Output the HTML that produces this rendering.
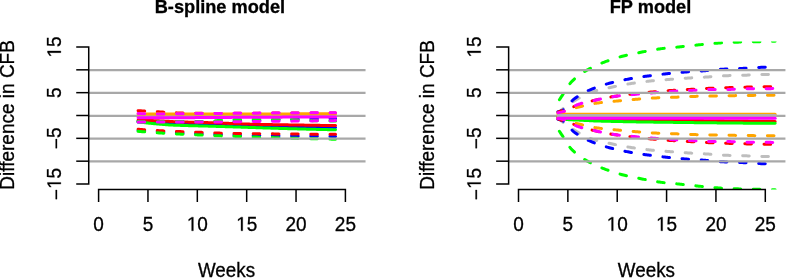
<!DOCTYPE html>
<html><head><meta charset="utf-8"><style>
html,body{margin:0;padding:0;background:#fff;}
body{width:786px;height:278px;overflow:hidden;font-family:"Liberation Sans",sans-serif;}
svg{display:block;will-change:transform;}
</style></head><body>
<svg width="786" height="278" viewBox="0 0 786 278">
<rect width="786" height="278" fill="#fff"/>
<defs>
<clipPath id="cl"><rect x="88.33" y="41.5" width="277.21" height="148"/></clipPath>
<clipPath id="cr"><rect x="508.23" y="41.5" width="277.21" height="148"/></clipPath>
</defs>
<line x1="88.73" y1="115.80" x2="365.54" y2="115.80" stroke="#a8a8a8" stroke-width="2.2"/>
<line x1="508.63" y1="115.80" x2="785.44" y2="115.80" stroke="#a8a8a8" stroke-width="2.2"/>
<g clip-path="url(#cr)" fill="none" stroke-width="3">
<path d="M557.99,112.76 L559.08,111.85 L560.17,110.95 L561.26,110.07 L562.35,109.20 L563.44,108.35 L564.54,107.51 L565.63,106.69 L566.72,105.89 L567.81,105.11 L568.90,104.34 L569.99,103.59 L571.08,102.86 L572.18,102.15 L573.27,101.46 L574.36,100.80 L575.45,100.15 L576.54,99.52 L577.63,98.90 L578.72,98.28 L579.82,97.68 L580.91,97.08 L582.00,96.49 L583.09,95.92 L584.18,95.37 L585.27,94.83 L586.36,94.31 L587.46,93.81 L588.55,93.34 L589.64,92.88 L590.73,92.46 L591.82,92.06 L592.91,91.69 L594.00,91.34 L595.09,91.01 L596.19,90.70 L597.28,90.41 L598.37,90.12 L599.46,89.85 L600.55,89.59 L601.64,89.34 L602.73,89.09 L603.83,88.85 L604.92,88.62 L606.01,88.39 L607.10,88.16 L608.19,87.93 L609.28,87.70 L610.37,87.48 L611.47,87.24 L612.56,87.01 L613.65,86.78 L614.74,86.55 L615.83,86.33 L616.92,86.10 L618.01,85.88 L619.11,85.66 L620.20,85.44 L621.29,85.23 L622.38,85.02 L623.47,84.82 L624.56,84.62 L625.65,84.42 L626.74,84.23 L627.84,84.04 L628.93,83.86 L630.02,83.69 L631.11,83.52 L632.20,83.35 L633.29,83.18 L634.38,83.02 L635.48,82.86 L636.57,82.70 L637.66,82.55 L638.75,82.40 L639.84,82.25 L640.93,82.10 L642.02,81.96 L643.12,81.82 L644.21,81.69 L645.30,81.56 L646.39,81.43 L647.48,81.31 L648.57,81.19 L649.66,81.07 L650.76,80.96 L651.85,80.85 L652.94,80.75 L654.03,80.64 L655.12,80.54 L656.21,80.45 L657.30,80.35 L658.39,80.26 L659.49,80.17 L660.58,80.07 L661.67,79.99 L662.76,79.90 L663.85,79.81 L664.94,79.73 L666.03,79.64 L667.13,79.55 L668.22,79.47 L669.31,79.39 L670.40,79.30 L671.49,79.22 L672.58,79.13 L673.67,79.05 L674.77,78.97 L675.86,78.89 L676.95,78.81 L678.04,78.73 L679.13,78.66 L680.22,78.58 L681.31,78.50 L682.40,78.43 L683.50,78.36 L684.59,78.28 L685.68,78.21 L686.77,78.14 L687.86,78.07 L688.95,78.01 L690.04,77.94 L691.14,77.88 L692.23,77.82 L693.32,77.76 L694.41,77.70 L695.50,77.64 L696.59,77.58 L697.68,77.52 L698.78,77.47 L699.87,77.41 L700.96,77.35 L702.05,77.29 L703.14,77.23 L704.23,77.17 L705.32,77.10 L706.42,77.04 L707.51,76.97 L708.60,76.90 L709.69,76.82 L710.78,76.74 L711.87,76.66 L712.96,76.57 L714.05,76.49 L715.15,76.40 L716.24,76.31 L717.33,76.23 L718.42,76.15 L719.51,76.07 L720.60,75.99 L721.69,75.92 L722.79,75.86 L723.88,75.80 L724.97,75.75 L726.06,75.70 L727.15,75.67 L728.24,75.63 L729.33,75.60 L730.43,75.57 L731.52,75.54 L732.61,75.51 L733.70,75.49 L734.79,75.46 L735.88,75.44 L736.97,75.42 L738.07,75.39 L739.16,75.37 L740.25,75.34 L741.34,75.32 L742.43,75.29 L743.52,75.26 L744.61,75.23 L745.70,75.20 L746.80,75.16 L747.89,75.12 L748.98,75.07 L750.07,75.02 L751.16,74.97 L752.25,74.92 L753.34,74.87 L754.44,74.82 L755.53,74.78 L756.62,74.73 L757.71,74.68 L758.80,74.64 L759.89,74.60 L760.98,74.57 L762.08,74.54 L763.17,74.51 L764.26,74.49 L765.35,74.48 L766.44,74.46 L767.53,74.45 L768.62,74.44 L769.72,74.43 L770.81,74.42 L771.90,74.41 L772.99,74.40 L774.08,74.40 L775.17,74.40" stroke="#bebebe" stroke-dasharray="6.6 12.6" stroke-linecap="round" stroke-linejoin="round" stroke-dashoffset="0"/>
<path d="M557.99,118.24 L559.08,119.15 L560.17,120.05 L561.26,120.93 L562.35,121.80 L563.44,122.65 L564.54,123.49 L565.63,124.31 L566.72,125.11 L567.81,125.89 L568.90,126.66 L569.99,127.41 L571.08,128.14 L572.18,128.85 L573.27,129.54 L574.36,130.20 L575.45,130.85 L576.54,131.48 L577.63,132.10 L578.72,132.72 L579.82,133.32 L580.91,133.92 L582.00,134.51 L583.09,135.08 L584.18,135.63 L585.27,136.17 L586.36,136.69 L587.46,137.19 L588.55,137.66 L589.64,138.12 L590.73,138.54 L591.82,138.94 L592.91,139.31 L594.00,139.66 L595.09,139.99 L596.19,140.30 L597.28,140.59 L598.37,140.88 L599.46,141.15 L600.55,141.41 L601.64,141.66 L602.73,141.91 L603.83,142.15 L604.92,142.38 L606.01,142.61 L607.10,142.84 L608.19,143.07 L609.28,143.30 L610.37,143.52 L611.47,143.76 L612.56,143.99 L613.65,144.22 L614.74,144.45 L615.83,144.67 L616.92,144.90 L618.01,145.12 L619.11,145.34 L620.20,145.56 L621.29,145.77 L622.38,145.98 L623.47,146.18 L624.56,146.38 L625.65,146.58 L626.74,146.77 L627.84,146.96 L628.93,147.14 L630.02,147.31 L631.11,147.48 L632.20,147.65 L633.29,147.82 L634.38,147.98 L635.48,148.14 L636.57,148.30 L637.66,148.45 L638.75,148.60 L639.84,148.75 L640.93,148.90 L642.02,149.04 L643.12,149.18 L644.21,149.31 L645.30,149.44 L646.39,149.57 L647.48,149.69 L648.57,149.81 L649.66,149.93 L650.76,150.04 L651.85,150.15 L652.94,150.25 L654.03,150.36 L655.12,150.46 L656.21,150.55 L657.30,150.65 L658.39,150.74 L659.49,150.83 L660.58,150.93 L661.67,151.01 L662.76,151.10 L663.85,151.19 L664.94,151.27 L666.03,151.36 L667.13,151.45 L668.22,151.53 L669.31,151.61 L670.40,151.70 L671.49,151.78 L672.58,151.87 L673.67,151.95 L674.77,152.03 L675.86,152.11 L676.95,152.19 L678.04,152.27 L679.13,152.34 L680.22,152.42 L681.31,152.50 L682.40,152.57 L683.50,152.64 L684.59,152.72 L685.68,152.79 L686.77,152.86 L687.86,152.93 L688.95,152.99 L690.04,153.06 L691.14,153.12 L692.23,153.18 L693.32,153.24 L694.41,153.30 L695.50,153.36 L696.59,153.42 L697.68,153.48 L698.78,153.53 L699.87,153.59 L700.96,153.65 L702.05,153.71 L703.14,153.77 L704.23,153.83 L705.32,153.90 L706.42,153.96 L707.51,154.03 L708.60,154.10 L709.69,154.18 L710.78,154.26 L711.87,154.34 L712.96,154.43 L714.05,154.51 L715.15,154.60 L716.24,154.69 L717.33,154.77 L718.42,154.85 L719.51,154.93 L720.60,155.01 L721.69,155.08 L722.79,155.14 L723.88,155.20 L724.97,155.25 L726.06,155.30 L727.15,155.33 L728.24,155.37 L729.33,155.40 L730.43,155.43 L731.52,155.46 L732.61,155.49 L733.70,155.51 L734.79,155.54 L735.88,155.56 L736.97,155.58 L738.07,155.61 L739.16,155.63 L740.25,155.66 L741.34,155.68 L742.43,155.71 L743.52,155.74 L744.61,155.77 L745.70,155.80 L746.80,155.84 L747.89,155.88 L748.98,155.93 L750.07,155.98 L751.16,156.03 L752.25,156.08 L753.34,156.13 L754.44,156.18 L755.53,156.22 L756.62,156.27 L757.71,156.32 L758.80,156.36 L759.89,156.40 L760.98,156.43 L762.08,156.46 L763.17,156.49 L764.26,156.51 L765.35,156.52 L766.44,156.54 L767.53,156.55 L768.62,156.56 L769.72,156.57 L770.81,156.58 L771.90,156.59 L772.99,156.60 L774.08,156.60 L775.17,156.60" stroke="#bebebe" stroke-dasharray="6.6 12.6" stroke-linecap="round" stroke-linejoin="round" stroke-dashoffset="0"/>
<path d="M557.99,111.62 L559.08,111.42 L560.17,111.12 L561.26,110.73 L562.35,110.28 L563.44,109.75 L564.54,109.01 L565.63,108.07 L566.72,106.97 L567.81,105.76 L568.90,104.49 L569.99,103.20 L571.08,101.94 L572.18,100.75 L573.27,99.69 L574.36,98.80 L575.45,98.02 L576.54,97.27 L577.63,96.55 L578.72,95.85 L579.82,95.18 L580.91,94.53 L582.00,93.90 L583.09,93.29 L584.18,92.71 L585.27,92.15 L586.36,91.61 L587.46,91.08 L588.55,90.57 L589.64,90.09 L590.73,89.61 L591.82,89.15 L592.91,88.71 L594.00,88.28 L595.09,87.86 L596.19,87.45 L597.28,87.05 L598.37,86.66 L599.46,86.29 L600.55,85.92 L601.64,85.57 L602.73,85.22 L603.83,84.89 L604.92,84.56 L606.01,84.24 L607.10,83.93 L608.19,83.62 L609.28,83.32 L610.37,83.03 L611.47,82.75 L612.56,82.47 L613.65,82.20 L614.74,81.93 L615.83,81.67 L616.92,81.42 L618.01,81.17 L619.11,80.92 L620.20,80.68 L621.29,80.45 L622.38,80.22 L623.47,80.00 L624.56,79.78 L625.65,79.56 L626.74,79.35 L627.84,79.15 L628.93,78.94 L630.02,78.75 L631.11,78.55 L632.20,78.36 L633.29,78.18 L634.38,78.00 L635.48,77.82 L636.57,77.64 L637.66,77.47 L638.75,77.30 L639.84,77.14 L640.93,76.97 L642.02,76.81 L643.12,76.65 L644.21,76.50 L645.30,76.34 L646.39,76.19 L647.48,76.04 L648.57,75.89 L649.66,75.74 L650.76,75.60 L651.85,75.46 L652.94,75.32 L654.03,75.18 L655.12,75.04 L656.21,74.91 L657.30,74.78 L658.39,74.65 L659.49,74.52 L660.58,74.39 L661.67,74.27 L662.76,74.15 L663.85,74.03 L664.94,73.91 L666.03,73.80 L667.13,73.68 L668.22,73.57 L669.31,73.46 L670.40,73.35 L671.49,73.24 L672.58,73.13 L673.67,73.02 L674.77,72.92 L675.86,72.82 L676.95,72.72 L678.04,72.62 L679.13,72.52 L680.22,72.43 L681.31,72.33 L682.40,72.24 L683.50,72.15 L684.59,72.07 L685.68,71.98 L686.77,71.90 L687.86,71.82 L688.95,71.75 L690.04,71.67 L691.14,71.60 L692.23,71.53 L693.32,71.46 L694.41,71.40 L695.50,71.33 L696.59,71.26 L697.68,71.19 L698.78,71.12 L699.87,71.05 L700.96,70.98 L702.05,70.91 L703.14,70.83 L704.23,70.75 L705.32,70.66 L706.42,70.57 L707.51,70.48 L708.60,70.38 L709.69,70.29 L710.78,70.19 L711.87,70.08 L712.96,69.98 L714.05,69.88 L715.15,69.79 L716.24,69.69 L717.33,69.60 L718.42,69.51 L719.51,69.43 L720.60,69.35 L721.69,69.28 L722.79,69.21 L723.88,69.15 L724.97,69.10 L726.06,69.05 L727.15,69.00 L728.24,68.96 L729.33,68.91 L730.43,68.87 L731.52,68.83 L732.61,68.79 L733.70,68.76 L734.79,68.72 L735.88,68.68 L736.97,68.64 L738.07,68.60 L739.16,68.56 L740.25,68.52 L741.34,68.47 L742.43,68.42 L743.52,68.37 L744.61,68.31 L745.70,68.25 L746.80,68.18 L747.89,68.11 L748.98,68.04 L750.07,67.97 L751.16,67.89 L752.25,67.82 L753.34,67.75 L754.44,67.68 L755.53,67.61 L756.62,67.55 L757.71,67.49 L758.80,67.44 L759.89,67.39 L760.98,67.35 L762.08,67.32 L763.17,67.29 L764.26,67.26 L765.35,67.24 L766.44,67.21 L767.53,67.19 L768.62,67.16 L769.72,67.14 L770.81,67.13 L771.90,67.11 L772.99,67.10 L774.08,67.09 L775.17,67.09" stroke="#0000ff" stroke-dasharray="6.6 12.6" stroke-linecap="round" stroke-linejoin="round" stroke-dashoffset="1.0"/>
<path d="M557.99,119.38 L559.08,119.58 L560.17,119.88 L561.26,120.27 L562.35,120.72 L563.44,121.25 L564.54,121.99 L565.63,122.93 L566.72,124.03 L567.81,125.24 L568.90,126.51 L569.99,127.80 L571.08,129.06 L572.18,130.25 L573.27,131.31 L574.36,132.20 L575.45,132.98 L576.54,133.73 L577.63,134.45 L578.72,135.15 L579.82,135.82 L580.91,136.47 L582.00,137.10 L583.09,137.71 L584.18,138.29 L585.27,138.85 L586.36,139.39 L587.46,139.92 L588.55,140.43 L589.64,140.91 L590.73,141.39 L591.82,141.85 L592.91,142.29 L594.00,142.72 L595.09,143.14 L596.19,143.55 L597.28,143.95 L598.37,144.34 L599.46,144.71 L600.55,145.08 L601.64,145.43 L602.73,145.78 L603.83,146.11 L604.92,146.44 L606.01,146.76 L607.10,147.07 L608.19,147.38 L609.28,147.68 L610.37,147.97 L611.47,148.25 L612.56,148.53 L613.65,148.80 L614.74,149.07 L615.83,149.33 L616.92,149.58 L618.01,149.83 L619.11,150.08 L620.20,150.32 L621.29,150.55 L622.38,150.78 L623.47,151.00 L624.56,151.22 L625.65,151.44 L626.74,151.65 L627.84,151.85 L628.93,152.06 L630.02,152.25 L631.11,152.45 L632.20,152.64 L633.29,152.82 L634.38,153.00 L635.48,153.18 L636.57,153.36 L637.66,153.53 L638.75,153.70 L639.84,153.86 L640.93,154.03 L642.02,154.19 L643.12,154.35 L644.21,154.50 L645.30,154.66 L646.39,154.81 L647.48,154.96 L648.57,155.11 L649.66,155.26 L650.76,155.40 L651.85,155.54 L652.94,155.68 L654.03,155.82 L655.12,155.96 L656.21,156.09 L657.30,156.22 L658.39,156.35 L659.49,156.48 L660.58,156.61 L661.67,156.73 L662.76,156.85 L663.85,156.97 L664.94,157.09 L666.03,157.20 L667.13,157.32 L668.22,157.43 L669.31,157.54 L670.40,157.65 L671.49,157.76 L672.58,157.87 L673.67,157.98 L674.77,158.08 L675.86,158.18 L676.95,158.28 L678.04,158.38 L679.13,158.48 L680.22,158.57 L681.31,158.67 L682.40,158.76 L683.50,158.85 L684.59,158.93 L685.68,159.02 L686.77,159.10 L687.86,159.18 L688.95,159.25 L690.04,159.33 L691.14,159.40 L692.23,159.47 L693.32,159.54 L694.41,159.60 L695.50,159.67 L696.59,159.74 L697.68,159.81 L698.78,159.88 L699.87,159.95 L700.96,160.02 L702.05,160.09 L703.14,160.17 L704.23,160.25 L705.32,160.34 L706.42,160.43 L707.51,160.52 L708.60,160.62 L709.69,160.71 L710.78,160.81 L711.87,160.92 L712.96,161.02 L714.05,161.12 L715.15,161.21 L716.24,161.31 L717.33,161.40 L718.42,161.49 L719.51,161.57 L720.60,161.65 L721.69,161.72 L722.79,161.79 L723.88,161.85 L724.97,161.90 L726.06,161.95 L727.15,162.00 L728.24,162.04 L729.33,162.09 L730.43,162.13 L731.52,162.17 L732.61,162.21 L733.70,162.24 L734.79,162.28 L735.88,162.32 L736.97,162.36 L738.07,162.40 L739.16,162.44 L740.25,162.48 L741.34,162.53 L742.43,162.58 L743.52,162.63 L744.61,162.69 L745.70,162.75 L746.80,162.82 L747.89,162.89 L748.98,162.96 L750.07,163.03 L751.16,163.11 L752.25,163.18 L753.34,163.25 L754.44,163.32 L755.53,163.39 L756.62,163.45 L757.71,163.51 L758.80,163.56 L759.89,163.61 L760.98,163.65 L762.08,163.68 L763.17,163.71 L764.26,163.74 L765.35,163.76 L766.44,163.79 L767.53,163.81 L768.62,163.84 L769.72,163.86 L770.81,163.87 L771.90,163.89 L772.99,163.90 L774.08,163.91 L775.17,163.91" stroke="#0000ff" stroke-dasharray="6.6 12.6" stroke-linecap="round" stroke-linejoin="round" stroke-dashoffset="1.0"/>
<path d="M557.99,117.10 L559.08,117.23 L560.17,117.36 L561.26,117.49 L562.35,117.61 L563.44,117.74 L564.54,117.87 L565.63,117.99 L566.72,118.11 L567.81,118.22 L568.90,118.33 L569.99,118.43 L571.08,118.53 L572.18,118.61 L573.27,118.69 L574.36,118.77 L575.45,118.83 L576.54,118.88 L577.63,118.92 L578.72,118.96 L579.82,118.99 L580.91,119.02 L582.00,119.05 L583.09,119.08 L584.18,119.10 L585.27,119.13 L586.36,119.16 L587.46,119.18 L588.55,119.20 L589.64,119.22 L590.73,119.24 L591.82,119.26 L592.91,119.28 L594.00,119.30 L595.09,119.32 L596.19,119.34 L597.28,119.35 L598.37,119.37 L599.46,119.38 L600.55,119.40 L601.64,119.41 L602.73,119.43 L603.83,119.44 L604.92,119.45 L606.01,119.47 L607.10,119.48 L608.19,119.49 L609.28,119.51 L610.37,119.52 L611.47,119.53 L612.56,119.55 L613.65,119.56 L614.74,119.58 L615.83,119.59 L616.92,119.61 L618.01,119.62 L619.11,119.64 L620.20,119.65 L621.29,119.67 L622.38,119.68 L623.47,119.69 L624.56,119.71 L625.65,119.72 L626.74,119.74 L627.84,119.75 L628.93,119.76 L630.02,119.78 L631.11,119.79 L632.20,119.80 L633.29,119.82 L634.38,119.83 L635.48,119.84 L636.57,119.86 L637.66,119.87 L638.75,119.88 L639.84,119.89 L640.93,119.90 L642.02,119.92 L643.12,119.93 L644.21,119.94 L645.30,119.95 L646.39,119.96 L647.48,119.98 L648.57,119.99 L649.66,120.00 L650.76,120.01 L651.85,120.02 L652.94,120.04 L654.03,120.05 L655.12,120.06 L656.21,120.07 L657.30,120.08 L658.39,120.09 L659.49,120.11 L660.58,120.12 L661.67,120.13 L662.76,120.14 L663.85,120.15 L664.94,120.17 L666.03,120.18 L667.13,120.19 L668.22,120.20 L669.31,120.21 L670.40,120.23 L671.49,120.24 L672.58,120.25 L673.67,120.26 L674.77,120.28 L675.86,120.29 L676.95,120.30 L678.04,120.31 L679.13,120.33 L680.22,120.34 L681.31,120.35 L682.40,120.37 L683.50,120.38 L684.59,120.39 L685.68,120.41 L686.77,120.42 L687.86,120.43 L688.95,120.45 L690.04,120.46 L691.14,120.47 L692.23,120.49 L693.32,120.50 L694.41,120.51 L695.50,120.53 L696.59,120.54 L697.68,120.55 L698.78,120.57 L699.87,120.58 L700.96,120.59 L702.05,120.61 L703.14,120.62 L704.23,120.64 L705.32,120.65 L706.42,120.66 L707.51,120.68 L708.60,120.69 L709.69,120.70 L710.78,120.71 L711.87,120.73 L712.96,120.74 L714.05,120.75 L715.15,120.77 L716.24,120.78 L717.33,120.79 L718.42,120.81 L719.51,120.82 L720.60,120.83 L721.69,120.84 L722.79,120.86 L723.88,120.87 L724.97,120.88 L726.06,120.89 L727.15,120.90 L728.24,120.92 L729.33,120.93 L730.43,120.94 L731.52,120.95 L732.61,120.96 L733.70,120.98 L734.79,120.99 L735.88,121.00 L736.97,121.01 L738.07,121.02 L739.16,121.03 L740.25,121.04 L741.34,121.06 L742.43,121.07 L743.52,121.08 L744.61,121.09 L745.70,121.10 L746.80,121.11 L747.89,121.12 L748.98,121.14 L750.07,121.15 L751.16,121.16 L752.25,121.17 L753.34,121.18 L754.44,121.19 L755.53,121.20 L756.62,121.21 L757.71,121.22 L758.80,121.23 L759.89,121.25 L760.98,121.26 L762.08,121.27 L763.17,121.28 L764.26,121.29 L765.35,121.30 L766.44,121.31 L767.53,121.32 L768.62,121.33 L769.72,121.34 L770.81,121.35 L771.90,121.36 L772.99,121.37 L774.08,121.38 L775.17,121.39" stroke="#ff0000" stroke-linecap="round"/>
<path d="M557.99,112.07 L559.08,111.69 L560.17,111.31 L561.26,110.93 L562.35,110.55 L563.44,110.17 L564.54,109.80 L565.63,109.43 L566.72,109.05 L567.81,108.68 L568.90,108.32 L569.99,107.95 L571.08,107.59 L572.18,107.22 L573.27,106.86 L574.36,106.50 L575.45,106.14 L576.54,105.77 L577.63,105.40 L578.72,105.03 L579.82,104.66 L580.91,104.29 L582.00,103.93 L583.09,103.57 L584.18,103.21 L585.27,102.87 L586.36,102.53 L587.46,102.19 L588.55,101.87 L589.64,101.56 L590.73,101.26 L591.82,100.98 L592.91,100.70 L594.00,100.43 L595.09,100.17 L596.19,99.90 L597.28,99.65 L598.37,99.40 L599.46,99.15 L600.55,98.91 L601.64,98.68 L602.73,98.45 L603.83,98.22 L604.92,98.01 L606.01,97.79 L607.10,97.59 L608.19,97.39 L609.28,97.20 L610.37,97.01 L611.47,96.83 L612.56,96.65 L613.65,96.48 L614.74,96.31 L615.83,96.15 L616.92,95.98 L618.01,95.83 L619.11,95.67 L620.20,95.52 L621.29,95.37 L622.38,95.23 L623.47,95.09 L624.56,94.95 L625.65,94.81 L626.74,94.67 L627.84,94.54 L628.93,94.41 L630.02,94.27 L631.11,94.14 L632.20,94.01 L633.29,93.89 L634.38,93.76 L635.48,93.64 L636.57,93.51 L637.66,93.39 L638.75,93.27 L639.84,93.15 L640.93,93.04 L642.02,92.92 L643.12,92.81 L644.21,92.70 L645.30,92.59 L646.39,92.48 L647.48,92.38 L648.57,92.27 L649.66,92.17 L650.76,92.07 L651.85,91.97 L652.94,91.88 L654.03,91.78 L655.12,91.69 L656.21,91.60 L657.30,91.51 L658.39,91.42 L659.49,91.33 L660.58,91.24 L661.67,91.15 L662.76,91.07 L663.85,90.99 L664.94,90.91 L666.03,90.83 L667.13,90.75 L668.22,90.67 L669.31,90.59 L670.40,90.52 L671.49,90.45 L672.58,90.38 L673.67,90.31 L674.77,90.24 L675.86,90.17 L676.95,90.11 L678.04,90.05 L679.13,89.99 L680.22,89.93 L681.31,89.87 L682.40,89.81 L683.50,89.75 L684.59,89.69 L685.68,89.63 L686.77,89.58 L687.86,89.52 L688.95,89.46 L690.04,89.40 L691.14,89.34 L692.23,89.28 L693.32,89.21 L694.41,89.15 L695.50,89.08 L696.59,89.02 L697.68,88.95 L698.78,88.88 L699.87,88.82 L700.96,88.75 L702.05,88.69 L703.14,88.62 L704.23,88.56 L705.32,88.51 L706.42,88.45 L707.51,88.40 L708.60,88.35 L709.69,88.30 L710.78,88.25 L711.87,88.21 L712.96,88.17 L714.05,88.13 L715.15,88.09 L716.24,88.05 L717.33,88.01 L718.42,87.97 L719.51,87.94 L720.60,87.90 L721.69,87.86 L722.79,87.83 L723.88,87.80 L724.97,87.76 L726.06,87.73 L727.15,87.69 L728.24,87.66 L729.33,87.62 L730.43,87.59 L731.52,87.55 L732.61,87.52 L733.70,87.48 L734.79,87.45 L735.88,87.42 L736.97,87.38 L738.07,87.35 L739.16,87.32 L740.25,87.28 L741.34,87.25 L742.43,87.22 L743.52,87.19 L744.61,87.16 L745.70,87.14 L746.80,87.11 L747.89,87.09 L748.98,87.06 L750.07,87.04 L751.16,87.02 L752.25,87.00 L753.34,86.98 L754.44,86.96 L755.53,86.94 L756.62,86.92 L757.71,86.91 L758.80,86.89 L759.89,86.87 L760.98,86.85 L762.08,86.83 L763.17,86.81 L764.26,86.79 L765.35,86.77 L766.44,86.75 L767.53,86.72 L768.62,86.69 L769.72,86.67 L770.81,86.63 L771.90,86.60 L772.99,86.57 L774.08,86.53 L775.17,86.50" stroke="#ff0000" stroke-dasharray="6.6 12.6" stroke-linecap="round" stroke-linejoin="round" stroke-dashoffset="2.5"/>
<path d="M557.99,118.93 L559.08,119.31 L560.17,119.69 L561.26,120.07 L562.35,120.45 L563.44,120.83 L564.54,121.20 L565.63,121.57 L566.72,121.95 L567.81,122.32 L568.90,122.68 L569.99,123.05 L571.08,123.41 L572.18,123.78 L573.27,124.14 L574.36,124.50 L575.45,124.86 L576.54,125.23 L577.63,125.60 L578.72,125.97 L579.82,126.34 L580.91,126.71 L582.00,127.07 L583.09,127.43 L584.18,127.79 L585.27,128.13 L586.36,128.47 L587.46,128.81 L588.55,129.13 L589.64,129.44 L590.73,129.74 L591.82,130.02 L592.91,130.30 L594.00,130.57 L595.09,130.83 L596.19,131.10 L597.28,131.35 L598.37,131.60 L599.46,131.85 L600.55,132.09 L601.64,132.32 L602.73,132.55 L603.83,132.78 L604.92,132.99 L606.01,133.21 L607.10,133.41 L608.19,133.61 L609.28,133.80 L610.37,133.99 L611.47,134.17 L612.56,134.35 L613.65,134.52 L614.74,134.69 L615.83,134.85 L616.92,135.02 L618.01,135.17 L619.11,135.33 L620.20,135.48 L621.29,135.63 L622.38,135.77 L623.47,135.91 L624.56,136.05 L625.65,136.19 L626.74,136.33 L627.84,136.46 L628.93,136.59 L630.02,136.73 L631.11,136.86 L632.20,136.99 L633.29,137.11 L634.38,137.24 L635.48,137.36 L636.57,137.49 L637.66,137.61 L638.75,137.73 L639.84,137.85 L640.93,137.96 L642.02,138.08 L643.12,138.19 L644.21,138.30 L645.30,138.41 L646.39,138.52 L647.48,138.62 L648.57,138.73 L649.66,138.83 L650.76,138.93 L651.85,139.03 L652.94,139.12 L654.03,139.22 L655.12,139.31 L656.21,139.40 L657.30,139.49 L658.39,139.58 L659.49,139.67 L660.58,139.76 L661.67,139.85 L662.76,139.93 L663.85,140.01 L664.94,140.09 L666.03,140.17 L667.13,140.25 L668.22,140.33 L669.31,140.41 L670.40,140.48 L671.49,140.55 L672.58,140.62 L673.67,140.69 L674.77,140.76 L675.86,140.83 L676.95,140.89 L678.04,140.95 L679.13,141.01 L680.22,141.07 L681.31,141.13 L682.40,141.19 L683.50,141.25 L684.59,141.31 L685.68,141.37 L686.77,141.42 L687.86,141.48 L688.95,141.54 L690.04,141.60 L691.14,141.66 L692.23,141.72 L693.32,141.79 L694.41,141.85 L695.50,141.92 L696.59,141.98 L697.68,142.05 L698.78,142.12 L699.87,142.18 L700.96,142.25 L702.05,142.31 L703.14,142.38 L704.23,142.44 L705.32,142.49 L706.42,142.55 L707.51,142.60 L708.60,142.65 L709.69,142.70 L710.78,142.75 L711.87,142.79 L712.96,142.83 L714.05,142.87 L715.15,142.91 L716.24,142.95 L717.33,142.99 L718.42,143.03 L719.51,143.06 L720.60,143.10 L721.69,143.14 L722.79,143.17 L723.88,143.20 L724.97,143.24 L726.06,143.27 L727.15,143.31 L728.24,143.34 L729.33,143.38 L730.43,143.41 L731.52,143.45 L732.61,143.48 L733.70,143.52 L734.79,143.55 L735.88,143.58 L736.97,143.62 L738.07,143.65 L739.16,143.68 L740.25,143.72 L741.34,143.75 L742.43,143.78 L743.52,143.81 L744.61,143.84 L745.70,143.86 L746.80,143.89 L747.89,143.91 L748.98,143.94 L750.07,143.96 L751.16,143.98 L752.25,144.00 L753.34,144.02 L754.44,144.04 L755.53,144.06 L756.62,144.08 L757.71,144.09 L758.80,144.11 L759.89,144.13 L760.98,144.15 L762.08,144.17 L763.17,144.19 L764.26,144.21 L765.35,144.23 L766.44,144.25 L767.53,144.28 L768.62,144.31 L769.72,144.33 L770.81,144.37 L771.90,144.40 L772.99,144.43 L774.08,144.47 L775.17,144.50" stroke="#ff0000" stroke-dasharray="6.6 12.6" stroke-linecap="round" stroke-linejoin="round" stroke-dashoffset="2.5"/>
<path d="M557.99,117.33 L559.08,117.68 L560.17,118.01 L561.26,118.33 L562.35,118.63 L563.44,118.90 L564.54,119.14 L565.63,119.34 L566.72,119.49 L567.81,119.61 L568.90,119.68 L569.99,119.75 L571.08,119.80 L572.18,119.85 L573.27,119.89 L574.36,119.93 L575.45,119.97 L576.54,120.02 L577.63,120.06 L578.72,120.11 L579.82,120.17 L580.91,120.22 L582.00,120.28 L583.09,120.33 L584.18,120.39 L585.27,120.45 L586.36,120.51 L587.46,120.56 L588.55,120.62 L589.64,120.68 L590.73,120.73 L591.82,120.78 L592.91,120.84 L594.00,120.88 L595.09,120.93 L596.19,120.98 L597.28,121.02 L598.37,121.06 L599.46,121.09 L600.55,121.12 L601.64,121.15 L602.73,121.18 L603.83,121.21 L604.92,121.23 L606.01,121.26 L607.10,121.29 L608.19,121.31 L609.28,121.34 L610.37,121.36 L611.47,121.39 L612.56,121.41 L613.65,121.44 L614.74,121.46 L615.83,121.49 L616.92,121.51 L618.01,121.53 L619.11,121.56 L620.20,121.58 L621.29,121.60 L622.38,121.62 L623.47,121.64 L624.56,121.67 L625.65,121.69 L626.74,121.71 L627.84,121.73 L628.93,121.75 L630.02,121.77 L631.11,121.79 L632.20,121.80 L633.29,121.82 L634.38,121.84 L635.48,121.86 L636.57,121.88 L637.66,121.90 L638.75,121.91 L639.84,121.93 L640.93,121.95 L642.02,121.97 L643.12,121.98 L644.21,122.00 L645.30,122.01 L646.39,122.03 L647.48,122.05 L648.57,122.06 L649.66,122.08 L650.76,122.09 L651.85,122.11 L652.94,122.12 L654.03,122.14 L655.12,122.15 L656.21,122.17 L657.30,122.18 L658.39,122.20 L659.49,122.21 L660.58,122.22 L661.67,122.24 L662.76,122.25 L663.85,122.27 L664.94,122.28 L666.03,122.29 L667.13,122.31 L668.22,122.32 L669.31,122.33 L670.40,122.35 L671.49,122.36 L672.58,122.37 L673.67,122.39 L674.77,122.40 L675.86,122.41 L676.95,122.42 L678.04,122.44 L679.13,122.45 L680.22,122.46 L681.31,122.47 L682.40,122.49 L683.50,122.50 L684.59,122.51 L685.68,122.53 L686.77,122.54 L687.86,122.55 L688.95,122.56 L690.04,122.58 L691.14,122.59 L692.23,122.60 L693.32,122.61 L694.41,122.63 L695.50,122.64 L696.59,122.65 L697.68,122.66 L698.78,122.68 L699.87,122.69 L700.96,122.70 L702.05,122.71 L703.14,122.73 L704.23,122.74 L705.32,122.75 L706.42,122.76 L707.51,122.77 L708.60,122.79 L709.69,122.80 L710.78,122.81 L711.87,122.82 L712.96,122.83 L714.05,122.84 L715.15,122.86 L716.24,122.87 L717.33,122.88 L718.42,122.89 L719.51,122.90 L720.60,122.91 L721.69,122.92 L722.79,122.93 L723.88,122.95 L724.97,122.96 L726.06,122.97 L727.15,122.98 L728.24,122.99 L729.33,123.00 L730.43,123.01 L731.52,123.02 L732.61,123.03 L733.70,123.04 L734.79,123.05 L735.88,123.06 L736.97,123.07 L738.07,123.08 L739.16,123.09 L740.25,123.10 L741.34,123.11 L742.43,123.12 L743.52,123.13 L744.61,123.14 L745.70,123.15 L746.80,123.16 L747.89,123.16 L748.98,123.17 L750.07,123.18 L751.16,123.19 L752.25,123.20 L753.34,123.21 L754.44,123.22 L755.53,123.22 L756.62,123.23 L757.71,123.24 L758.80,123.25 L759.89,123.26 L760.98,123.26 L762.08,123.27 L763.17,123.28 L764.26,123.29 L765.35,123.29 L766.44,123.30 L767.53,123.31 L768.62,123.32 L769.72,123.32 L770.81,123.33 L771.90,123.34 L772.99,123.34 L774.08,123.35 L775.17,123.36" stroke="#00ff00" stroke-linecap="round"/>
<path d="M557.99,101.80 L559.08,100.19 L560.17,98.58 L561.26,96.96 L562.35,95.35 L563.44,93.71 L564.54,91.99 L565.63,90.23 L566.72,88.46 L567.81,86.74 L568.90,85.11 L569.99,83.60 L571.08,82.27 L572.18,81.13 L573.27,80.07 L574.36,79.06 L575.45,78.09 L576.54,77.18 L577.63,76.31 L578.72,75.47 L579.82,74.68 L580.91,73.92 L582.00,73.18 L583.09,72.48 L584.18,71.80 L585.27,71.14 L586.36,70.49 L587.46,69.86 L588.55,69.25 L589.64,68.66 L590.73,68.09 L591.82,67.53 L592.91,66.99 L594.00,66.46 L595.09,65.95 L596.19,65.45 L597.28,64.97 L598.37,64.50 L599.46,64.03 L600.55,63.58 L601.64,63.14 L602.73,62.71 L603.83,62.29 L604.92,61.87 L606.01,61.46 L607.10,61.06 L608.19,60.67 L609.28,60.28 L610.37,59.90 L611.47,59.53 L612.56,59.17 L613.65,58.82 L614.74,58.47 L615.83,58.13 L616.92,57.80 L618.01,57.48 L619.11,57.17 L620.20,56.86 L621.29,56.57 L622.38,56.28 L623.47,56.00 L624.56,55.73 L625.65,55.47 L626.74,55.21 L627.84,54.96 L628.93,54.72 L630.02,54.48 L631.11,54.25 L632.20,54.02 L633.29,53.79 L634.38,53.57 L635.48,53.35 L636.57,53.13 L637.66,52.92 L638.75,52.70 L639.84,52.49 L640.93,52.27 L642.02,52.06 L643.12,51.84 L644.21,51.63 L645.30,51.41 L646.39,51.19 L647.48,50.97 L648.57,50.76 L649.66,50.55 L650.76,50.34 L651.85,50.14 L652.94,49.94 L654.03,49.75 L655.12,49.56 L656.21,49.38 L657.30,49.21 L658.39,49.05 L659.49,48.90 L660.58,48.76 L661.67,48.62 L662.76,48.49 L663.85,48.37 L664.94,48.26 L666.03,48.14 L667.13,48.03 L668.22,47.93 L669.31,47.83 L670.40,47.72 L671.49,47.62 L672.58,47.52 L673.67,47.42 L674.77,47.32 L675.86,47.22 L676.95,47.12 L678.04,47.01 L679.13,46.90 L680.22,46.79 L681.31,46.68 L682.40,46.56 L683.50,46.45 L684.59,46.33 L685.68,46.22 L686.77,46.10 L687.86,45.98 L688.95,45.87 L690.04,45.75 L691.14,45.64 L692.23,45.52 L693.32,45.41 L694.41,45.29 L695.50,45.18 L696.59,45.07 L697.68,44.96 L698.78,44.85 L699.87,44.74 L700.96,44.63 L702.05,44.52 L703.14,44.41 L704.23,44.30 L705.32,44.18 L706.42,44.07 L707.51,43.96 L708.60,43.86 L709.69,43.75 L710.78,43.65 L711.87,43.55 L712.96,43.45 L714.05,43.36 L715.15,43.28 L716.24,43.20 L717.33,43.13 L718.42,43.06 L719.51,42.99 L720.60,42.92 L721.69,42.86 L722.79,42.80 L723.88,42.74 L724.97,42.68 L726.06,42.63 L727.15,42.57 L728.24,42.52 L729.33,42.47 L730.43,42.42 L731.52,42.38 L732.61,42.33 L733.70,42.29 L734.79,42.25 L735.88,42.22 L736.97,42.18 L738.07,42.15 L739.16,42.12 L740.25,42.09 L741.34,42.06 L742.43,42.03 L743.52,42.00 L744.61,41.98 L745.70,41.96 L746.80,41.93 L747.89,41.91 L748.98,41.88 L750.07,41.86 L751.16,41.84 L752.25,41.81 L753.34,41.79 L754.44,41.77 L755.53,41.74 L756.62,41.71 L757.71,41.69 L758.80,41.66 L759.89,41.64 L760.98,41.61 L762.08,41.59 L763.17,41.56 L764.26,41.54 L765.35,41.51 L766.44,41.49 L767.53,41.46 L768.62,41.44 L769.72,41.41 L770.81,41.39 L771.90,41.36 L772.99,41.34 L774.08,41.31 L775.17,41.29" stroke="#00ff00" stroke-dasharray="6.6 12.6" stroke-linecap="round" stroke-linejoin="round" stroke-dashoffset="-2.5"/>
<path d="M557.99,129.20 L559.08,130.81 L560.17,132.42 L561.26,134.04 L562.35,135.65 L563.44,137.29 L564.54,139.01 L565.63,140.77 L566.72,142.54 L567.81,144.26 L568.90,145.89 L569.99,147.40 L571.08,148.73 L572.18,149.87 L573.27,150.93 L574.36,151.94 L575.45,152.91 L576.54,153.82 L577.63,154.69 L578.72,155.53 L579.82,156.32 L580.91,157.08 L582.00,157.82 L583.09,158.52 L584.18,159.20 L585.27,159.86 L586.36,160.51 L587.46,161.14 L588.55,161.75 L589.64,162.34 L590.73,162.91 L591.82,163.47 L592.91,164.01 L594.00,164.54 L595.09,165.05 L596.19,165.55 L597.28,166.03 L598.37,166.50 L599.46,166.97 L600.55,167.42 L601.64,167.86 L602.73,168.29 L603.83,168.71 L604.92,169.13 L606.01,169.54 L607.10,169.94 L608.19,170.33 L609.28,170.72 L610.37,171.10 L611.47,171.47 L612.56,171.83 L613.65,172.18 L614.74,172.53 L615.83,172.87 L616.92,173.20 L618.01,173.52 L619.11,173.83 L620.20,174.14 L621.29,174.43 L622.38,174.72 L623.47,175.00 L624.56,175.27 L625.65,175.53 L626.74,175.79 L627.84,176.04 L628.93,176.28 L630.02,176.52 L631.11,176.75 L632.20,176.98 L633.29,177.21 L634.38,177.43 L635.48,177.65 L636.57,177.87 L637.66,178.08 L638.75,178.30 L639.84,178.51 L640.93,178.73 L642.02,178.94 L643.12,179.16 L644.21,179.37 L645.30,179.59 L646.39,179.81 L647.48,180.03 L648.57,180.24 L649.66,180.45 L650.76,180.66 L651.85,180.86 L652.94,181.06 L654.03,181.25 L655.12,181.44 L656.21,181.62 L657.30,181.79 L658.39,181.95 L659.49,182.10 L660.58,182.24 L661.67,182.38 L662.76,182.51 L663.85,182.63 L664.94,182.74 L666.03,182.86 L667.13,182.97 L668.22,183.07 L669.31,183.17 L670.40,183.28 L671.49,183.38 L672.58,183.48 L673.67,183.58 L674.77,183.68 L675.86,183.78 L676.95,183.88 L678.04,183.99 L679.13,184.10 L680.22,184.21 L681.31,184.32 L682.40,184.44 L683.50,184.55 L684.59,184.67 L685.68,184.78 L686.77,184.90 L687.86,185.02 L688.95,185.13 L690.04,185.25 L691.14,185.36 L692.23,185.48 L693.32,185.59 L694.41,185.71 L695.50,185.82 L696.59,185.93 L697.68,186.04 L698.78,186.15 L699.87,186.26 L700.96,186.37 L702.05,186.48 L703.14,186.59 L704.23,186.70 L705.32,186.82 L706.42,186.93 L707.51,187.04 L708.60,187.14 L709.69,187.25 L710.78,187.35 L711.87,187.45 L712.96,187.55 L714.05,187.64 L715.15,187.72 L716.24,187.80 L717.33,187.87 L718.42,187.94 L719.51,188.01 L720.60,188.08 L721.69,188.14 L722.79,188.20 L723.88,188.26 L724.97,188.32 L726.06,188.37 L727.15,188.43 L728.24,188.48 L729.33,188.53 L730.43,188.58 L731.52,188.62 L732.61,188.67 L733.70,188.71 L734.79,188.75 L735.88,188.78 L736.97,188.82 L738.07,188.85 L739.16,188.88 L740.25,188.91 L741.34,188.94 L742.43,188.97 L743.52,189.00 L744.61,189.02 L745.70,189.04 L746.80,189.07 L747.89,189.09 L748.98,189.12 L750.07,189.14 L751.16,189.16 L752.25,189.19 L753.34,189.21 L754.44,189.23 L755.53,189.26 L756.62,189.29 L757.71,189.31 L758.80,189.34 L759.89,189.36 L760.98,189.39 L762.08,189.41 L763.17,189.44 L764.26,189.46 L765.35,189.49 L766.44,189.51 L767.53,189.54 L768.62,189.56 L769.72,189.59 L770.81,189.61 L771.90,189.64 L772.99,189.66 L774.08,189.69 L775.17,189.71" stroke="#00ff00" stroke-dasharray="6.6 12.6" stroke-linecap="round" stroke-linejoin="round" stroke-dashoffset="-2.5"/>
<path d="M557.99,115.50 L559.08,115.22 L560.17,114.94 L561.26,114.69 L562.35,114.50 L563.44,114.38 L564.54,114.35 L565.63,114.32 L566.72,114.31 L567.81,114.29 L568.90,114.27 L569.99,114.26 L571.08,114.25 L572.18,114.24 L573.27,114.23 L574.36,114.23 L575.45,114.22 L576.54,114.22 L577.63,114.22 L578.72,114.22 L579.82,114.22 L580.91,114.22 L582.00,114.22 L583.09,114.22 L584.18,114.22 L585.27,114.22 L586.36,114.22 L587.46,114.22 L588.55,114.22 L589.64,114.22 L590.73,114.22 L591.82,114.22 L592.91,114.22 L594.00,114.22 L595.09,114.22 L596.19,114.22 L597.28,114.22 L598.37,114.22 L599.46,114.22 L600.55,114.22 L601.64,114.22 L602.73,114.22 L603.83,114.22 L604.92,114.22 L606.01,114.22 L607.10,114.22 L608.19,114.22 L609.28,114.22 L610.37,114.22 L611.47,114.22 L612.56,114.22 L613.65,114.22 L614.74,114.22 L615.83,114.22 L616.92,114.22 L618.01,114.22 L619.11,114.22 L620.20,114.22 L621.29,114.22 L622.38,114.22 L623.47,114.22 L624.56,114.22 L625.65,114.22 L626.74,114.22 L627.84,114.22 L628.93,114.22 L630.02,114.22 L631.11,114.22 L632.20,114.22 L633.29,114.22 L634.38,114.22 L635.48,114.22 L636.57,114.22 L637.66,114.22 L638.75,114.22 L639.84,114.22 L640.93,114.22 L642.02,114.22 L643.12,114.22 L644.21,114.22 L645.30,114.22 L646.39,114.22 L647.48,114.22 L648.57,114.22 L649.66,114.22 L650.76,114.22 L651.85,114.22 L652.94,114.22 L654.03,114.22 L655.12,114.22 L656.21,114.22 L657.30,114.22 L658.39,114.22 L659.49,114.22 L660.58,114.22 L661.67,114.22 L662.76,114.22 L663.85,114.23 L664.94,114.23 L666.03,114.23 L667.13,114.23 L668.22,114.23 L669.31,114.23 L670.40,114.23 L671.49,114.23 L672.58,114.23 L673.67,114.23 L674.77,114.23 L675.86,114.23 L676.95,114.23 L678.04,114.23 L679.13,114.23 L680.22,114.23 L681.31,114.23 L682.40,114.23 L683.50,114.23 L684.59,114.23 L685.68,114.23 L686.77,114.23 L687.86,114.23 L688.95,114.23 L690.04,114.23 L691.14,114.23 L692.23,114.23 L693.32,114.23 L694.41,114.23 L695.50,114.23 L696.59,114.23 L697.68,114.23 L698.78,114.23 L699.87,114.23 L700.96,114.23 L702.05,114.23 L703.14,114.23 L704.23,114.23 L705.32,114.23 L706.42,114.23 L707.51,114.23 L708.60,114.23 L709.69,114.23 L710.78,114.24 L711.87,114.24 L712.96,114.24 L714.05,114.24 L715.15,114.24 L716.24,114.24 L717.33,114.24 L718.42,114.24 L719.51,114.24 L720.60,114.24 L721.69,114.24 L722.79,114.24 L723.88,114.24 L724.97,114.24 L726.06,114.24 L727.15,114.24 L728.24,114.24 L729.33,114.24 L730.43,114.24 L731.52,114.24 L732.61,114.24 L733.70,114.24 L734.79,114.24 L735.88,114.24 L736.97,114.25 L738.07,114.25 L739.16,114.25 L740.25,114.25 L741.34,114.25 L742.43,114.25 L743.52,114.25 L744.61,114.25 L745.70,114.25 L746.80,114.25 L747.89,114.25 L748.98,114.25 L750.07,114.25 L751.16,114.25 L752.25,114.25 L753.34,114.25 L754.44,114.25 L755.53,114.25 L756.62,114.26 L757.71,114.26 L758.80,114.26 L759.89,114.26 L760.98,114.26 L762.08,114.26 L763.17,114.26 L764.26,114.26 L765.35,114.26 L766.44,114.26 L767.53,114.26 L768.62,114.26 L769.72,114.26 L770.81,114.26 L771.90,114.26 L772.99,114.27 L774.08,114.27 L775.17,114.27" stroke="#ffa500" stroke-linecap="round"/>
<path d="M557.99,113.67 L559.08,113.22 L560.17,112.79 L561.26,112.36 L562.35,111.94 L563.44,111.53 L564.54,111.14 L565.63,110.76 L566.72,110.39 L567.81,110.04 L568.90,109.69 L569.99,109.36 L571.08,109.04 L572.18,108.73 L573.27,108.43 L574.36,108.13 L575.45,107.84 L576.54,107.56 L577.63,107.29 L578.72,107.02 L579.82,106.74 L580.91,106.47 L582.00,106.20 L583.09,105.93 L584.18,105.66 L585.27,105.40 L586.36,105.14 L587.46,104.89 L588.55,104.64 L589.64,104.40 L590.73,104.17 L591.82,103.95 L592.91,103.74 L594.00,103.55 L595.09,103.36 L596.19,103.20 L597.28,103.04 L598.37,102.89 L599.46,102.76 L600.55,102.62 L601.64,102.50 L602.73,102.37 L603.83,102.26 L604.92,102.15 L606.01,102.04 L607.10,101.93 L608.19,101.83 L609.28,101.73 L610.37,101.63 L611.47,101.53 L612.56,101.43 L613.65,101.33 L614.74,101.23 L615.83,101.13 L616.92,101.02 L618.01,100.92 L619.11,100.81 L620.20,100.71 L621.29,100.61 L622.38,100.50 L623.47,100.40 L624.56,100.30 L625.65,100.20 L626.74,100.10 L627.84,100.00 L628.93,99.91 L630.02,99.81 L631.11,99.72 L632.20,99.62 L633.29,99.53 L634.38,99.44 L635.48,99.35 L636.57,99.26 L637.66,99.18 L638.75,99.09 L639.84,99.00 L640.93,98.91 L642.02,98.82 L643.12,98.73 L644.21,98.65 L645.30,98.56 L646.39,98.48 L647.48,98.40 L648.57,98.32 L649.66,98.25 L650.76,98.18 L651.85,98.11 L652.94,98.04 L654.03,97.98 L655.12,97.93 L656.21,97.88 L657.30,97.83 L658.39,97.78 L659.49,97.74 L660.58,97.70 L661.67,97.66 L662.76,97.62 L663.85,97.59 L664.94,97.55 L666.03,97.52 L667.13,97.48 L668.22,97.45 L669.31,97.41 L670.40,97.38 L671.49,97.34 L672.58,97.30 L673.67,97.26 L674.77,97.22 L675.86,97.18 L676.95,97.13 L678.04,97.08 L679.13,97.03 L680.22,96.98 L681.31,96.93 L682.40,96.88 L683.50,96.83 L684.59,96.78 L685.68,96.73 L686.77,96.68 L687.86,96.64 L688.95,96.59 L690.04,96.55 L691.14,96.51 L692.23,96.47 L693.32,96.44 L694.41,96.40 L695.50,96.38 L696.59,96.35 L697.68,96.33 L698.78,96.30 L699.87,96.28 L700.96,96.26 L702.05,96.24 L703.14,96.22 L704.23,96.20 L705.32,96.18 L706.42,96.16 L707.51,96.14 L708.60,96.12 L709.69,96.10 L710.78,96.08 L711.87,96.06 L712.96,96.04 L714.05,96.02 L715.15,95.99 L716.24,95.97 L717.33,95.95 L718.42,95.93 L719.51,95.91 L720.60,95.88 L721.69,95.86 L722.79,95.84 L723.88,95.82 L724.97,95.80 L726.06,95.78 L727.15,95.76 L728.24,95.74 L729.33,95.72 L730.43,95.70 L731.52,95.68 L732.61,95.67 L733.70,95.65 L734.79,95.63 L735.88,95.61 L736.97,95.60 L738.07,95.58 L739.16,95.57 L740.25,95.55 L741.34,95.53 L742.43,95.52 L743.52,95.50 L744.61,95.49 L745.70,95.47 L746.80,95.46 L747.89,95.45 L748.98,95.43 L750.07,95.42 L751.16,95.41 L752.25,95.40 L753.34,95.39 L754.44,95.37 L755.53,95.36 L756.62,95.35 L757.71,95.34 L758.80,95.33 L759.89,95.32 L760.98,95.32 L762.08,95.31 L763.17,95.30 L764.26,95.29 L765.35,95.28 L766.44,95.27 L767.53,95.26 L768.62,95.25 L769.72,95.24 L770.81,95.23 L771.90,95.22 L772.99,95.20 L774.08,95.19 L775.17,95.18" stroke="#ffa500" stroke-dasharray="6.6 12.6" stroke-linecap="round" stroke-linejoin="round" stroke-dashoffset="0"/>
<path d="M557.99,117.33 L559.08,117.78 L560.17,118.21 L561.26,118.64 L562.35,119.06 L563.44,119.47 L564.54,119.86 L565.63,120.24 L566.72,120.61 L567.81,120.96 L568.90,121.31 L569.99,121.64 L571.08,121.96 L572.18,122.27 L573.27,122.57 L574.36,122.87 L575.45,123.16 L576.54,123.44 L577.63,123.71 L578.72,123.98 L579.82,124.26 L580.91,124.53 L582.00,124.80 L583.09,125.07 L584.18,125.34 L585.27,125.60 L586.36,125.86 L587.46,126.11 L588.55,126.36 L589.64,126.60 L590.73,126.83 L591.82,127.05 L592.91,127.26 L594.00,127.45 L595.09,127.64 L596.19,127.80 L597.28,127.96 L598.37,128.11 L599.46,128.24 L600.55,128.38 L601.64,128.50 L602.73,128.63 L603.83,128.74 L604.92,128.85 L606.01,128.96 L607.10,129.07 L608.19,129.17 L609.28,129.27 L610.37,129.37 L611.47,129.47 L612.56,129.57 L613.65,129.67 L614.74,129.77 L615.83,129.87 L616.92,129.98 L618.01,130.08 L619.11,130.19 L620.20,130.29 L621.29,130.39 L622.38,130.50 L623.47,130.60 L624.56,130.70 L625.65,130.80 L626.74,130.90 L627.84,131.00 L628.93,131.09 L630.02,131.19 L631.11,131.28 L632.20,131.38 L633.29,131.47 L634.38,131.56 L635.48,131.65 L636.57,131.74 L637.66,131.82 L638.75,131.91 L639.84,132.00 L640.93,132.09 L642.02,132.18 L643.12,132.27 L644.21,132.35 L645.30,132.44 L646.39,132.52 L647.48,132.60 L648.57,132.68 L649.66,132.75 L650.76,132.82 L651.85,132.89 L652.94,132.96 L654.03,133.02 L655.12,133.07 L656.21,133.12 L657.30,133.17 L658.39,133.22 L659.49,133.26 L660.58,133.30 L661.67,133.34 L662.76,133.38 L663.85,133.41 L664.94,133.45 L666.03,133.48 L667.13,133.52 L668.22,133.55 L669.31,133.59 L670.40,133.62 L671.49,133.66 L672.58,133.70 L673.67,133.74 L674.77,133.78 L675.86,133.82 L676.95,133.87 L678.04,133.92 L679.13,133.97 L680.22,134.02 L681.31,134.07 L682.40,134.12 L683.50,134.17 L684.59,134.22 L685.68,134.27 L686.77,134.32 L687.86,134.36 L688.95,134.41 L690.04,134.45 L691.14,134.49 L692.23,134.53 L693.32,134.56 L694.41,134.60 L695.50,134.62 L696.59,134.65 L697.68,134.67 L698.78,134.70 L699.87,134.72 L700.96,134.74 L702.05,134.76 L703.14,134.78 L704.23,134.80 L705.32,134.82 L706.42,134.84 L707.51,134.86 L708.60,134.88 L709.69,134.90 L710.78,134.92 L711.87,134.94 L712.96,134.96 L714.05,134.98 L715.15,135.01 L716.24,135.03 L717.33,135.05 L718.42,135.07 L719.51,135.09 L720.60,135.12 L721.69,135.14 L722.79,135.16 L723.88,135.18 L724.97,135.20 L726.06,135.22 L727.15,135.24 L728.24,135.26 L729.33,135.28 L730.43,135.30 L731.52,135.32 L732.61,135.33 L733.70,135.35 L734.79,135.37 L735.88,135.39 L736.97,135.40 L738.07,135.42 L739.16,135.43 L740.25,135.45 L741.34,135.47 L742.43,135.48 L743.52,135.50 L744.61,135.51 L745.70,135.53 L746.80,135.54 L747.89,135.55 L748.98,135.57 L750.07,135.58 L751.16,135.59 L752.25,135.60 L753.34,135.61 L754.44,135.63 L755.53,135.64 L756.62,135.65 L757.71,135.66 L758.80,135.67 L759.89,135.68 L760.98,135.68 L762.08,135.69 L763.17,135.70 L764.26,135.71 L765.35,135.72 L766.44,135.73 L767.53,135.74 L768.62,135.75 L769.72,135.76 L770.81,135.77 L771.90,135.78 L772.99,135.80 L774.08,135.81 L775.17,135.82" stroke="#ffa500" stroke-dasharray="6.6 12.6" stroke-linecap="round" stroke-linejoin="round" stroke-dashoffset="0"/>
<path d="M557.99,115.50 H775.17" stroke="#b0b0b0" stroke-linecap="round"/>
<path d="M557.99,118.24 L559.08,118.24 L560.17,118.24 L561.26,118.24 L562.35,118.24 L563.44,118.24 L564.54,118.24 L565.63,118.24 L566.72,118.24 L567.81,118.24 L568.90,118.24 L569.99,118.24 L571.08,118.24 L572.18,118.24 L573.27,118.24 L574.36,118.24 L575.45,118.24 L576.54,118.24 L577.63,118.24 L578.72,118.24 L579.82,118.24 L580.91,118.24 L582.00,118.24 L583.09,118.24 L584.18,118.24 L585.27,118.24 L586.36,118.24 L587.46,118.24 L588.55,118.24 L589.64,118.24 L590.73,118.24 L591.82,118.24 L592.91,118.24 L594.00,118.24 L595.09,118.24 L596.19,118.24 L597.28,118.24 L598.37,118.24 L599.46,118.24 L600.55,118.24 L601.64,118.24 L602.73,118.24 L603.83,118.24 L604.92,118.24 L606.01,118.24 L607.10,118.24 L608.19,118.24 L609.28,118.24 L610.37,118.24 L611.47,118.24 L612.56,118.24 L613.65,118.24 L614.74,118.24 L615.83,118.24 L616.92,118.24 L618.01,118.24 L619.11,118.24 L620.20,118.24 L621.29,118.24 L622.38,118.24 L623.47,118.24 L624.56,118.24 L625.65,118.24 L626.74,118.24 L627.84,118.24 L628.93,118.24 L630.02,118.24 L631.11,118.24 L632.20,118.24 L633.29,118.24 L634.38,118.24 L635.48,118.24 L636.57,118.24 L637.66,118.24 L638.75,118.24 L639.84,118.24 L640.93,118.24 L642.02,118.24 L643.12,118.24 L644.21,118.24 L645.30,118.24 L646.39,118.24 L647.48,118.24 L648.57,118.24 L649.66,118.24 L650.76,118.24 L651.85,118.24 L652.94,118.24 L654.03,118.24 L655.12,118.24 L656.21,118.24 L657.30,118.24 L658.39,118.24 L659.49,118.24 L660.58,118.24 L661.67,118.24 L662.76,118.24 L663.85,118.24 L664.94,118.24 L666.03,118.24 L667.13,118.24 L668.22,118.24 L669.31,118.24 L670.40,118.24 L671.49,118.24 L672.58,118.24 L673.67,118.24 L674.77,118.24 L675.86,118.24 L676.95,118.24 L678.04,118.24 L679.13,118.24 L680.22,118.24 L681.31,118.24 L682.40,118.24 L683.50,118.24 L684.59,118.24 L685.68,118.24 L686.77,118.24 L687.86,118.24 L688.95,118.24 L690.04,118.24 L691.14,118.24 L692.23,118.24 L693.32,118.24 L694.41,118.24 L695.50,118.24 L696.59,118.24 L697.68,118.24 L698.78,118.24 L699.87,118.24 L700.96,118.24 L702.05,118.24 L703.14,118.24 L704.23,118.24 L705.32,118.24 L706.42,118.24 L707.51,118.24 L708.60,118.24 L709.69,118.24 L710.78,118.24 L711.87,118.24 L712.96,118.24 L714.05,118.24 L715.15,118.24 L716.24,118.24 L717.33,118.24 L718.42,118.24 L719.51,118.24 L720.60,118.24 L721.69,118.24 L722.79,118.24 L723.88,118.24 L724.97,118.24 L726.06,118.24 L727.15,118.24 L728.24,118.24 L729.33,118.24 L730.43,118.24 L731.52,118.24 L732.61,118.24 L733.70,118.24 L734.79,118.24 L735.88,118.24 L736.97,118.24 L738.07,118.24 L739.16,118.24 L740.25,118.24 L741.34,118.24 L742.43,118.24 L743.52,118.24 L744.61,118.24 L745.70,118.24 L746.80,118.24 L747.89,118.24 L748.98,118.24 L750.07,118.24 L751.16,118.24 L752.25,118.24 L753.34,118.24 L754.44,118.24 L755.53,118.24 L756.62,118.24 L757.71,118.24 L758.80,118.24 L759.89,118.24 L760.98,118.24 L762.08,118.24 L763.17,118.24 L764.26,118.24 L765.35,118.24 L766.44,118.24 L767.53,118.24 L768.62,118.24 L769.72,118.24 L770.81,118.24 L771.90,118.24 L772.99,118.24 L774.08,118.24 L775.17,118.24" stroke="#ff00ff" stroke-linecap="round"/>
<path d="M557.99,112.62 L559.08,112.49 L560.17,112.31 L561.26,112.10 L562.35,111.85 L563.44,111.57 L564.54,111.27 L565.63,110.95 L566.72,110.55 L567.81,110.04 L568.90,109.46 L569.99,108.83 L571.08,108.16 L572.18,107.47 L573.27,106.79 L574.36,106.14 L575.45,105.54 L576.54,105.01 L577.63,104.57 L578.72,104.21 L579.82,103.86 L580.91,103.53 L582.00,103.22 L583.09,102.92 L584.18,102.64 L585.27,102.36 L586.36,102.10 L587.46,101.85 L588.55,101.61 L589.64,101.37 L590.73,101.14 L591.82,100.90 L592.91,100.67 L594.00,100.44 L595.09,100.21 L596.19,99.98 L597.28,99.74 L598.37,99.50 L599.46,99.26 L600.55,99.02 L601.64,98.79 L602.73,98.56 L603.83,98.33 L604.92,98.10 L606.01,97.88 L607.10,97.67 L608.19,97.46 L609.28,97.26 L610.37,97.07 L611.47,96.88 L612.56,96.71 L613.65,96.55 L614.74,96.40 L615.83,96.26 L616.92,96.12 L618.01,95.99 L619.11,95.87 L620.20,95.75 L621.29,95.63 L622.38,95.52 L623.47,95.41 L624.56,95.31 L625.65,95.20 L626.74,95.10 L627.84,95.00 L628.93,94.90 L630.02,94.81 L631.11,94.71 L632.20,94.61 L633.29,94.51 L634.38,94.41 L635.48,94.31 L636.57,94.22 L637.66,94.12 L638.75,94.03 L639.84,93.94 L640.93,93.85 L642.02,93.76 L643.12,93.67 L644.21,93.58 L645.30,93.49 L646.39,93.40 L647.48,93.31 L648.57,93.23 L649.66,93.14 L650.76,93.05 L651.85,92.97 L652.94,92.88 L654.03,92.79 L655.12,92.70 L656.21,92.61 L657.30,92.52 L658.39,92.43 L659.49,92.34 L660.58,92.25 L661.67,92.16 L662.76,92.07 L663.85,91.98 L664.94,91.90 L666.03,91.81 L667.13,91.73 L668.22,91.65 L669.31,91.57 L670.40,91.49 L671.49,91.42 L672.58,91.35 L673.67,91.28 L674.77,91.22 L675.86,91.16 L676.95,91.10 L678.04,91.05 L679.13,90.99 L680.22,90.94 L681.31,90.89 L682.40,90.83 L683.50,90.78 L684.59,90.73 L685.68,90.69 L686.77,90.64 L687.86,90.59 L688.95,90.54 L690.04,90.49 L691.14,90.43 L692.23,90.38 L693.32,90.33 L694.41,90.27 L695.50,90.20 L696.59,90.14 L697.68,90.07 L698.78,90.00 L699.87,89.94 L700.96,89.87 L702.05,89.81 L703.14,89.74 L704.23,89.69 L705.32,89.63 L706.42,89.59 L707.51,89.55 L708.60,89.51 L709.69,89.49 L710.78,89.47 L711.87,89.46 L712.96,89.45 L714.05,89.45 L715.15,89.44 L716.24,89.44 L717.33,89.43 L718.42,89.43 L719.51,89.43 L720.60,89.42 L721.69,89.42 L722.79,89.42 L723.88,89.41 L724.97,89.41 L726.06,89.40 L727.15,89.40 L728.24,89.39 L729.33,89.39 L730.43,89.38 L731.52,89.37 L732.61,89.35 L733.70,89.32 L734.79,89.29 L735.88,89.25 L736.97,89.20 L738.07,89.16 L739.16,89.11 L740.25,89.06 L741.34,89.01 L742.43,88.96 L743.52,88.92 L744.61,88.88 L745.70,88.84 L746.80,88.81 L747.89,88.79 L748.98,88.78 L750.07,88.77 L751.16,88.76 L752.25,88.75 L753.34,88.74 L754.44,88.73 L755.53,88.73 L756.62,88.72 L757.71,88.72 L758.80,88.71 L759.89,88.71 L760.98,88.70 L762.08,88.70 L763.17,88.69 L764.26,88.68 L765.35,88.68 L766.44,88.67 L767.53,88.66 L768.62,88.65 L769.72,88.64 L770.81,88.63 L771.90,88.61 L772.99,88.59 L774.08,88.57 L775.17,88.55" stroke="#ff00ff" stroke-dasharray="6.6 12.6" stroke-linecap="round" stroke-linejoin="round" stroke-dashoffset="0"/>
<path d="M557.99,118.38 L559.08,118.51 L560.17,118.69 L561.26,118.90 L562.35,119.15 L563.44,119.43 L564.54,119.73 L565.63,120.05 L566.72,120.45 L567.81,120.96 L568.90,121.54 L569.99,122.17 L571.08,122.84 L572.18,123.53 L573.27,124.21 L574.36,124.86 L575.45,125.46 L576.54,125.99 L577.63,126.43 L578.72,126.79 L579.82,127.14 L580.91,127.47 L582.00,127.78 L583.09,128.08 L584.18,128.36 L585.27,128.64 L586.36,128.90 L587.46,129.15 L588.55,129.39 L589.64,129.63 L590.73,129.86 L591.82,130.10 L592.91,130.33 L594.00,130.56 L595.09,130.79 L596.19,131.02 L597.28,131.26 L598.37,131.50 L599.46,131.74 L600.55,131.98 L601.64,132.21 L602.73,132.44 L603.83,132.67 L604.92,132.90 L606.01,133.12 L607.10,133.33 L608.19,133.54 L609.28,133.74 L610.37,133.93 L611.47,134.12 L612.56,134.29 L613.65,134.45 L614.74,134.60 L615.83,134.74 L616.92,134.88 L618.01,135.01 L619.11,135.13 L620.20,135.25 L621.29,135.37 L622.38,135.48 L623.47,135.59 L624.56,135.69 L625.65,135.80 L626.74,135.90 L627.84,136.00 L628.93,136.10 L630.02,136.19 L631.11,136.29 L632.20,136.39 L633.29,136.49 L634.38,136.59 L635.48,136.69 L636.57,136.78 L637.66,136.88 L638.75,136.97 L639.84,137.06 L640.93,137.15 L642.02,137.24 L643.12,137.33 L644.21,137.42 L645.30,137.51 L646.39,137.60 L647.48,137.69 L648.57,137.77 L649.66,137.86 L650.76,137.95 L651.85,138.03 L652.94,138.12 L654.03,138.21 L655.12,138.30 L656.21,138.39 L657.30,138.48 L658.39,138.57 L659.49,138.66 L660.58,138.75 L661.67,138.84 L662.76,138.93 L663.85,139.02 L664.94,139.10 L666.03,139.19 L667.13,139.27 L668.22,139.35 L669.31,139.43 L670.40,139.51 L671.49,139.58 L672.58,139.65 L673.67,139.72 L674.77,139.78 L675.86,139.84 L676.95,139.90 L678.04,139.95 L679.13,140.01 L680.22,140.06 L681.31,140.11 L682.40,140.17 L683.50,140.22 L684.59,140.27 L685.68,140.31 L686.77,140.36 L687.86,140.41 L688.95,140.46 L690.04,140.51 L691.14,140.57 L692.23,140.62 L693.32,140.67 L694.41,140.73 L695.50,140.80 L696.59,140.86 L697.68,140.93 L698.78,141.00 L699.87,141.06 L700.96,141.13 L702.05,141.19 L703.14,141.26 L704.23,141.31 L705.32,141.37 L706.42,141.41 L707.51,141.45 L708.60,141.49 L709.69,141.51 L710.78,141.53 L711.87,141.54 L712.96,141.55 L714.05,141.55 L715.15,141.56 L716.24,141.56 L717.33,141.57 L718.42,141.57 L719.51,141.57 L720.60,141.58 L721.69,141.58 L722.79,141.58 L723.88,141.59 L724.97,141.59 L726.06,141.60 L727.15,141.60 L728.24,141.61 L729.33,141.61 L730.43,141.62 L731.52,141.63 L732.61,141.65 L733.70,141.68 L734.79,141.71 L735.88,141.75 L736.97,141.80 L738.07,141.84 L739.16,141.89 L740.25,141.94 L741.34,141.99 L742.43,142.04 L743.52,142.08 L744.61,142.12 L745.70,142.16 L746.80,142.19 L747.89,142.21 L748.98,142.22 L750.07,142.23 L751.16,142.24 L752.25,142.25 L753.34,142.26 L754.44,142.27 L755.53,142.27 L756.62,142.28 L757.71,142.28 L758.80,142.29 L759.89,142.29 L760.98,142.30 L762.08,142.30 L763.17,142.31 L764.26,142.32 L765.35,142.32 L766.44,142.33 L767.53,142.34 L768.62,142.35 L769.72,142.36 L770.81,142.37 L771.90,142.39 L772.99,142.41 L774.08,142.43 L775.17,142.45" stroke="#ff00ff" stroke-dasharray="6.6 12.6" stroke-linecap="round" stroke-linejoin="round" stroke-dashoffset="0"/>
</g>
<g clip-path="url(#cl)" fill="none" stroke-width="3">
<path d="M138.09,121.00 L139.08,121.09 L140.07,121.17 L141.06,121.26 L142.06,121.34 L143.05,121.43 L144.04,121.51 L145.03,121.59 L146.03,121.67 L147.02,121.75 L148.01,121.84 L149.00,121.91 L149.99,121.99 L150.99,122.07 L151.98,122.15 L152.97,122.23 L153.96,122.30 L154.95,122.38 L155.95,122.45 L156.94,122.52 L157.93,122.59 L158.92,122.67 L159.92,122.74 L160.91,122.80 L161.90,122.87 L162.89,122.94 L163.88,123.01 L164.88,123.07 L165.87,123.13 L166.86,123.20 L167.85,123.26 L168.84,123.32 L169.84,123.38 L170.83,123.44 L171.82,123.49 L172.81,123.55 L173.81,123.60 L174.80,123.66 L175.79,123.71 L176.78,123.76 L177.77,123.81 L178.77,123.86 L179.76,123.91 L180.75,123.95 L181.74,124.00 L182.74,124.04 L183.73,124.09 L184.72,124.13 L185.71,124.17 L186.70,124.22 L187.70,124.26 L188.69,124.30 L189.68,124.34 L190.67,124.38 L191.66,124.42 L192.66,124.45 L193.65,124.49 L194.64,124.53 L195.63,124.57 L196.63,124.60 L197.62,124.64 L198.61,124.67 L199.60,124.71 L200.59,124.74 L201.59,124.78 L202.58,124.81 L203.57,124.85 L204.56,124.88 L205.55,124.91 L206.55,124.95 L207.54,124.98 L208.53,125.01 L209.52,125.05 L210.52,125.08 L211.51,125.11 L212.50,125.15 L213.49,125.18 L214.48,125.21 L215.48,125.25 L216.47,125.28 L217.46,125.31 L218.45,125.35 L219.45,125.38 L220.44,125.42 L221.43,125.45 L222.42,125.48 L223.41,125.52 L224.41,125.55 L225.40,125.59 L226.39,125.62 L227.38,125.66 L228.37,125.69 L229.37,125.73 L230.36,125.76 L231.35,125.80 L232.34,125.83 L233.34,125.86 L234.33,125.90 L235.32,125.93 L236.31,125.96 L237.30,125.99 L238.30,126.03 L239.29,126.06 L240.28,126.09 L241.27,126.12 L242.26,126.15 L243.26,126.18 L244.25,126.21 L245.24,126.24 L246.23,126.26 L247.23,126.29 L248.22,126.32 L249.21,126.34 L250.20,126.37 L251.19,126.39 L252.19,126.41 L253.18,126.43 L254.17,126.45 L255.16,126.47 L256.16,126.49 L257.15,126.51 L258.14,126.53 L259.13,126.54 L260.12,126.56 L261.12,126.58 L262.11,126.59 L263.10,126.61 L264.09,126.62 L265.08,126.64 L266.08,126.65 L267.07,126.67 L268.06,126.68 L269.05,126.69 L270.05,126.71 L271.04,126.72 L272.03,126.73 L273.02,126.74 L274.01,126.76 L275.01,126.77 L276.00,126.78 L276.99,126.79 L277.98,126.80 L278.97,126.81 L279.97,126.82 L280.96,126.84 L281.95,126.85 L282.94,126.86 L283.94,126.87 L284.93,126.88 L285.92,126.89 L286.91,126.90 L287.90,126.91 L288.90,126.92 L289.89,126.93 L290.88,126.94 L291.87,126.95 L292.87,126.96 L293.86,126.98 L294.85,126.99 L295.84,127.00 L296.83,127.01 L297.83,127.02 L298.82,127.03 L299.81,127.04 L300.80,127.05 L301.79,127.06 L302.79,127.07 L303.78,127.09 L304.77,127.10 L305.76,127.11 L306.76,127.12 L307.75,127.13 L308.74,127.14 L309.73,127.15 L310.72,127.16 L311.72,127.17 L312.71,127.18 L313.70,127.19 L314.69,127.20 L315.68,127.21 L316.68,127.22 L317.67,127.23 L318.66,127.24 L319.65,127.25 L320.65,127.26 L321.64,127.27 L322.63,127.28 L323.62,127.29 L324.61,127.30 L325.61,127.31 L326.60,127.32 L327.59,127.33 L328.58,127.34 L329.58,127.35 L330.57,127.36 L331.56,127.36 L332.55,127.37 L333.54,127.38 L334.54,127.39 L335.53,127.40" stroke="#0000ff" stroke-linecap="round"/>
<path d="M138.09,121.90 L139.08,121.90 L140.07,121.90 L141.06,121.90 L142.06,121.90 L143.05,121.90 L144.04,121.90 L145.03,121.90 L146.03,121.90 L147.02,121.90 L148.01,121.90 L149.00,121.90 L149.99,121.90 L150.99,121.89 L151.98,121.89 L152.97,121.89 L153.96,121.89 L154.95,121.89 L155.95,121.89 L156.94,121.89 L157.93,121.89 L158.92,121.89 L159.92,121.88 L160.91,121.88 L161.90,121.88 L162.89,121.88 L163.88,121.88 L164.88,121.88 L165.87,121.88 L166.86,121.87 L167.85,121.87 L168.84,121.87 L169.84,121.87 L170.83,121.87 L171.82,121.86 L172.81,121.86 L173.81,121.86 L174.80,121.86 L175.79,121.85 L176.78,121.85 L177.77,121.85 L178.77,121.85 L179.76,121.84 L180.75,121.84 L181.74,121.84 L182.74,121.84 L183.73,121.83 L184.72,121.83 L185.71,121.83 L186.70,121.82 L187.70,121.82 L188.69,121.82 L189.68,121.82 L190.67,121.81 L191.66,121.81 L192.66,121.81 L193.65,121.80 L194.64,121.80 L195.63,121.79 L196.63,121.79 L197.62,121.79 L198.61,121.78 L199.60,121.78 L200.59,121.78 L201.59,121.77 L202.58,121.77 L203.57,121.76 L204.56,121.76 L205.55,121.75 L206.55,121.75 L207.54,121.75 L208.53,121.74 L209.52,121.74 L210.52,121.73 L211.51,121.73 L212.50,121.72 L213.49,121.72 L214.48,121.71 L215.48,121.71 L216.47,121.70 L217.46,121.70 L218.45,121.69 L219.45,121.68 L220.44,121.67 L221.43,121.66 L222.42,121.64 L223.41,121.63 L224.41,121.61 L225.40,121.59 L226.39,121.57 L227.38,121.55 L228.37,121.53 L229.37,121.50 L230.36,121.48 L231.35,121.45 L232.34,121.42 L233.34,121.39 L234.33,121.36 L235.32,121.33 L236.31,121.30 L237.30,121.27 L238.30,121.23 L239.29,121.20 L240.28,121.17 L241.27,121.13 L242.26,121.10 L243.26,121.06 L244.25,121.03 L245.24,120.99 L246.23,120.96 L247.23,120.92 L248.22,120.89 L249.21,120.85 L250.20,120.82 L251.19,120.78 L252.19,120.75 L253.18,120.71 L254.17,120.68 L255.16,120.65 L256.16,120.61 L257.15,120.58 L258.14,120.55 L259.13,120.51 L260.12,120.48 L261.12,120.45 L262.11,120.41 L263.10,120.38 L264.09,120.34 L265.08,120.30 L266.08,120.27 L267.07,120.23 L268.06,120.19 L269.05,120.15 L270.05,120.12 L271.04,120.08 L272.03,120.04 L273.02,120.00 L274.01,119.96 L275.01,119.92 L276.00,119.89 L276.99,119.85 L277.98,119.81 L278.97,119.77 L279.97,119.73 L280.96,119.69 L281.95,119.66 L282.94,119.62 L283.94,119.58 L284.93,119.55 L285.92,119.51 L286.91,119.47 L287.90,119.43 L288.90,119.39 L289.89,119.35 L290.88,119.31 L291.87,119.27 L292.87,119.22 L293.86,119.18 L294.85,119.14 L295.84,119.10 L296.83,119.06 L297.83,119.02 L298.82,118.98 L299.81,118.95 L300.80,118.91 L301.79,118.88 L302.79,118.86 L303.78,118.84 L304.77,118.82 L305.76,118.80 L306.76,118.79 L307.75,118.78 L308.74,118.77 L309.73,118.76 L310.72,118.75 L311.72,118.74 L312.71,118.73 L313.70,118.72 L314.69,118.71 L315.68,118.70 L316.68,118.69 L317.67,118.68 L318.66,118.67 L319.65,118.66 L320.65,118.66 L321.64,118.65 L322.63,118.64 L323.62,118.64 L324.61,118.63 L325.61,118.63 L326.60,118.62 L327.59,118.62 L328.58,118.61 L329.58,118.61 L330.57,118.61 L331.56,118.60 L332.55,118.60 L333.54,118.60 L334.54,118.60 L335.53,118.60" stroke="#0000ff" stroke-dasharray="6.6 12.6" stroke-linecap="round" stroke-linejoin="round"/>
<path d="M138.09,130.40 L139.08,130.47 L140.07,130.54 L141.06,130.61 L142.06,130.67 L143.05,130.74 L144.04,130.81 L145.03,130.87 L146.03,130.94 L147.02,131.01 L148.01,131.07 L149.00,131.14 L149.99,131.20 L150.99,131.27 L151.98,131.33 L152.97,131.39 L153.96,131.45 L154.95,131.52 L155.95,131.58 L156.94,131.64 L157.93,131.70 L158.92,131.76 L159.92,131.82 L160.91,131.88 L161.90,131.94 L162.89,132.00 L163.88,132.06 L164.88,132.11 L165.87,132.17 L166.86,132.23 L167.85,132.28 L168.84,132.34 L169.84,132.39 L170.83,132.45 L171.82,132.50 L172.81,132.55 L173.81,132.61 L174.80,132.66 L175.79,132.71 L176.78,132.76 L177.77,132.81 L178.77,132.86 L179.76,132.91 L180.75,132.96 L181.74,133.01 L182.74,133.06 L183.73,133.11 L184.72,133.15 L185.71,133.20 L186.70,133.25 L187.70,133.30 L188.69,133.35 L189.68,133.39 L190.67,133.44 L191.66,133.49 L192.66,133.53 L193.65,133.58 L194.64,133.62 L195.63,133.67 L196.63,133.71 L197.62,133.75 L198.61,133.80 L199.60,133.84 L200.59,133.88 L201.59,133.92 L202.58,133.97 L203.57,134.01 L204.56,134.05 L205.55,134.09 L206.55,134.13 L207.54,134.16 L208.53,134.20 L209.52,134.24 L210.52,134.28 L211.51,134.31 L212.50,134.35 L213.49,134.38 L214.48,134.42 L215.48,134.45 L216.47,134.48 L217.46,134.51 L218.45,134.54 L219.45,134.57 L220.44,134.61 L221.43,134.64 L222.42,134.67 L223.41,134.70 L224.41,134.72 L225.40,134.75 L226.39,134.78 L227.38,134.81 L228.37,134.84 L229.37,134.87 L230.36,134.89 L231.35,134.92 L232.34,134.95 L233.34,134.97 L234.33,135.00 L235.32,135.03 L236.31,135.05 L237.30,135.08 L238.30,135.10 L239.29,135.13 L240.28,135.15 L241.27,135.17 L242.26,135.20 L243.26,135.22 L244.25,135.24 L245.24,135.27 L246.23,135.29 L247.23,135.31 L248.22,135.33 L249.21,135.35 L250.20,135.37 L251.19,135.39 L252.19,135.41 L253.18,135.43 L254.17,135.45 L255.16,135.47 L256.16,135.49 L257.15,135.51 L258.14,135.53 L259.13,135.55 L260.12,135.57 L261.12,135.58 L262.11,135.60 L263.10,135.62 L264.09,135.64 L265.08,135.65 L266.08,135.67 L267.07,135.69 L268.06,135.70 L269.05,135.72 L270.05,135.74 L271.04,135.75 L272.03,135.77 L273.02,135.78 L274.01,135.80 L275.01,135.81 L276.00,135.83 L276.99,135.84 L277.98,135.86 L278.97,135.87 L279.97,135.89 L280.96,135.90 L281.95,135.92 L282.94,135.93 L283.94,135.94 L284.93,135.96 L285.92,135.97 L286.91,135.98 L287.90,136.00 L288.90,136.01 L289.89,136.02 L290.88,136.04 L291.87,136.05 L292.87,136.06 L293.86,136.07 L294.85,136.09 L295.84,136.10 L296.83,136.11 L297.83,136.12 L298.82,136.13 L299.81,136.15 L300.80,136.16 L301.79,136.17 L302.79,136.18 L303.78,136.19 L304.77,136.20 L305.76,136.21 L306.76,136.23 L307.75,136.24 L308.74,136.25 L309.73,136.26 L310.72,136.27 L311.72,136.28 L312.71,136.29 L313.70,136.30 L314.69,136.31 L315.68,136.32 L316.68,136.33 L317.67,136.34 L318.66,136.35 L319.65,136.36 L320.65,136.37 L321.64,136.38 L322.63,136.39 L323.62,136.40 L324.61,136.41 L325.61,136.42 L326.60,136.43 L327.59,136.44 L328.58,136.44 L329.58,136.45 L330.57,136.46 L331.56,136.47 L332.55,136.48 L333.54,136.48 L334.54,136.49 L335.53,136.50" stroke="#0000ff" stroke-dasharray="6.6 12.6" stroke-linecap="round" stroke-linejoin="round"/>
<path d="M138.09,120.20 L139.08,120.22 L140.07,120.24 L141.06,120.27 L142.06,120.29 L143.05,120.32 L144.04,120.34 L145.03,120.37 L146.03,120.40 L147.02,120.43 L148.01,120.46 L149.00,120.49 L149.99,120.52 L150.99,120.55 L151.98,120.59 L152.97,120.62 L153.96,120.66 L154.95,120.69 L155.95,120.73 L156.94,120.77 L157.93,120.80 L158.92,120.84 L159.92,120.89 L160.91,120.93 L161.90,120.98 L162.89,121.04 L163.88,121.09 L164.88,121.14 L165.87,121.20 L166.86,121.26 L167.85,121.31 L168.84,121.37 L169.84,121.43 L170.83,121.48 L171.82,121.54 L172.81,121.59 L173.81,121.64 L174.80,121.69 L175.79,121.73 L176.78,121.77 L177.77,121.81 L178.77,121.84 L179.76,121.88 L180.75,121.91 L181.74,121.94 L182.74,121.97 L183.73,122.00 L184.72,122.03 L185.71,122.05 L186.70,122.08 L187.70,122.11 L188.69,122.13 L189.68,122.16 L190.67,122.18 L191.66,122.20 L192.66,122.23 L193.65,122.25 L194.64,122.28 L195.63,122.30 L196.63,122.32 L197.62,122.35 L198.61,122.37 L199.60,122.40 L200.59,122.42 L201.59,122.45 L202.58,122.47 L203.57,122.50 L204.56,122.52 L205.55,122.55 L206.55,122.58 L207.54,122.61 L208.53,122.64 L209.52,122.67 L210.52,122.70 L211.51,122.74 L212.50,122.77 L213.49,122.80 L214.48,122.84 L215.48,122.87 L216.47,122.91 L217.46,122.94 L218.45,122.98 L219.45,123.02 L220.44,123.05 L221.43,123.09 L222.42,123.13 L223.41,123.17 L224.41,123.20 L225.40,123.24 L226.39,123.28 L227.38,123.32 L228.37,123.36 L229.37,123.40 L230.36,123.43 L231.35,123.47 L232.34,123.51 L233.34,123.55 L234.33,123.59 L235.32,123.62 L236.31,123.66 L237.30,123.70 L238.30,123.73 L239.29,123.77 L240.28,123.81 L241.27,123.84 L242.26,123.88 L243.26,123.91 L244.25,123.94 L245.24,123.98 L246.23,124.01 L247.23,124.04 L248.22,124.07 L249.21,124.10 L250.20,124.13 L251.19,124.16 L252.19,124.19 L253.18,124.22 L254.17,124.24 L255.16,124.27 L256.16,124.29 L257.15,124.31 L258.14,124.34 L259.13,124.36 L260.12,124.38 L261.12,124.40 L262.11,124.42 L263.10,124.44 L264.09,124.46 L265.08,124.48 L266.08,124.50 L267.07,124.52 L268.06,124.54 L269.05,124.56 L270.05,124.57 L271.04,124.59 L272.03,124.61 L273.02,124.63 L274.01,124.64 L275.01,124.66 L276.00,124.68 L276.99,124.69 L277.98,124.71 L278.97,124.73 L279.97,124.74 L280.96,124.76 L281.95,124.78 L282.94,124.79 L283.94,124.81 L284.93,124.82 L285.92,124.84 L286.91,124.85 L287.90,124.87 L288.90,124.89 L289.89,124.90 L290.88,124.92 L291.87,124.93 L292.87,124.95 L293.86,124.96 L294.85,124.98 L295.84,125.00 L296.83,125.01 L297.83,125.03 L298.82,125.05 L299.81,125.06 L300.80,125.08 L301.79,125.09 L302.79,125.11 L303.78,125.12 L304.77,125.14 L305.76,125.16 L306.76,125.17 L307.75,125.19 L308.74,125.20 L309.73,125.22 L310.72,125.23 L311.72,125.25 L312.71,125.26 L313.70,125.28 L314.69,125.30 L315.68,125.31 L316.68,125.33 L317.67,125.34 L318.66,125.36 L319.65,125.37 L320.65,125.39 L321.64,125.40 L322.63,125.41 L323.62,125.43 L324.61,125.44 L325.61,125.46 L326.60,125.47 L327.59,125.49 L328.58,125.50 L329.58,125.52 L330.57,125.53 L331.56,125.54 L332.55,125.56 L333.54,125.57 L334.54,125.59 L335.53,125.60" stroke="#ff0000" stroke-linecap="round"/>
<path d="M138.09,110.70 L139.08,110.76 L140.07,110.81 L141.06,110.87 L142.06,110.92 L143.05,110.98 L144.04,111.03 L145.03,111.09 L146.03,111.14 L147.02,111.20 L148.01,111.25 L149.00,111.31 L149.99,111.36 L150.99,111.42 L151.98,111.47 L152.97,111.53 L153.96,111.58 L154.95,111.64 L155.95,111.69 L156.94,111.75 L157.93,111.81 L158.92,111.86 L159.92,111.92 L160.91,111.98 L161.90,112.05 L162.89,112.11 L163.88,112.18 L164.88,112.25 L165.87,112.31 L166.86,112.38 L167.85,112.44 L168.84,112.50 L169.84,112.56 L170.83,112.62 L171.82,112.68 L172.81,112.73 L173.81,112.77 L174.80,112.81 L175.79,112.85 L176.78,112.88 L177.77,112.90 L178.77,112.93 L179.76,112.95 L180.75,112.97 L181.74,112.99 L182.74,113.01 L183.73,113.03 L184.72,113.05 L185.71,113.07 L186.70,113.09 L187.70,113.11 L188.69,113.12 L189.68,113.14 L190.67,113.16 L191.66,113.17 L192.66,113.19 L193.65,113.21 L194.64,113.22 L195.63,113.24 L196.63,113.25 L197.62,113.26 L198.61,113.28 L199.60,113.29 L200.59,113.30 L201.59,113.31 L202.58,113.32 L203.57,113.33 L204.56,113.34 L205.55,113.35 L206.55,113.36 L207.54,113.37 L208.53,113.37 L209.52,113.38 L210.52,113.38 L211.51,113.39 L212.50,113.39 L213.49,113.39 L214.48,113.40 L215.48,113.40 L216.47,113.40 L217.46,113.40 L218.45,113.40 L219.45,113.40 L220.44,113.40 L221.43,113.40 L222.42,113.39 L223.41,113.39 L224.41,113.39 L225.40,113.39 L226.39,113.39 L227.38,113.38 L228.37,113.38 L229.37,113.37 L230.36,113.37 L231.35,113.37 L232.34,113.36 L233.34,113.36 L234.33,113.35 L235.32,113.35 L236.31,113.34 L237.30,113.34 L238.30,113.33 L239.29,113.33 L240.28,113.32 L241.27,113.31 L242.26,113.31 L243.26,113.30 L244.25,113.30 L245.24,113.29 L246.23,113.28 L247.23,113.28 L248.22,113.27 L249.21,113.26 L250.20,113.26 L251.19,113.25 L252.19,113.24 L253.18,113.24 L254.17,113.23 L255.16,113.22 L256.16,113.22 L257.15,113.21 L258.14,113.20 L259.13,113.20 L260.12,113.19 L261.12,113.18 L262.11,113.18 L263.10,113.17 L264.09,113.16 L265.08,113.16 L266.08,113.15 L267.07,113.15 L268.06,113.14 L269.05,113.13 L270.05,113.13 L271.04,113.12 L272.03,113.12 L273.02,113.11 L274.01,113.11 L275.01,113.11 L276.00,113.10 L276.99,113.10 L277.98,113.09 L278.97,113.09 L279.97,113.09 L280.96,113.08 L281.95,113.08 L282.94,113.07 L283.94,113.07 L284.93,113.07 L285.92,113.06 L286.91,113.06 L287.90,113.05 L288.90,113.05 L289.89,113.05 L290.88,113.04 L291.87,113.04 L292.87,113.04 L293.86,113.03 L294.85,113.03 L295.84,113.02 L296.83,113.02 L297.83,113.02 L298.82,113.01 L299.81,113.01 L300.80,113.01 L301.79,113.00 L302.79,113.00 L303.78,113.00 L304.77,112.99 L305.76,112.99 L306.76,112.99 L307.75,112.98 L308.74,112.98 L309.73,112.98 L310.72,112.97 L311.72,112.97 L312.71,112.97 L313.70,112.96 L314.69,112.96 L315.68,112.96 L316.68,112.95 L317.67,112.95 L318.66,112.95 L319.65,112.94 L320.65,112.94 L321.64,112.94 L322.63,112.94 L323.62,112.93 L324.61,112.93 L325.61,112.93 L326.60,112.92 L327.59,112.92 L328.58,112.92 L329.58,112.92 L330.57,112.91 L331.56,112.91 L332.55,112.91 L333.54,112.91 L334.54,112.90 L335.53,112.90" stroke="#ff0000" stroke-dasharray="6.6 12.6" stroke-linecap="round" stroke-linejoin="round"/>
<path d="M138.09,129.25 L139.08,129.33 L140.07,129.41 L141.06,129.48 L142.06,129.56 L143.05,129.63 L144.04,129.71 L145.03,129.78 L146.03,129.85 L147.02,129.92 L148.01,129.99 L149.00,130.06 L149.99,130.12 L150.99,130.19 L151.98,130.25 L152.97,130.32 L153.96,130.38 L154.95,130.44 L155.95,130.49 L156.94,130.55 L157.93,130.61 L158.92,130.66 L159.92,130.71 L160.91,130.76 L161.90,130.81 L162.89,130.86 L163.88,130.91 L164.88,130.96 L165.87,131.00 L166.86,131.05 L167.85,131.09 L168.84,131.14 L169.84,131.18 L170.83,131.22 L171.82,131.26 L172.81,131.31 L173.81,131.35 L174.80,131.39 L175.79,131.43 L176.78,131.47 L177.77,131.51 L178.77,131.55 L179.76,131.58 L180.75,131.62 L181.74,131.66 L182.74,131.69 L183.73,131.73 L184.72,131.76 L185.71,131.80 L186.70,131.83 L187.70,131.87 L188.69,131.90 L189.68,131.93 L190.67,131.97 L191.66,132.00 L192.66,132.04 L193.65,132.07 L194.64,132.10 L195.63,132.14 L196.63,132.17 L197.62,132.21 L198.61,132.25 L199.60,132.29 L200.59,132.33 L201.59,132.37 L202.58,132.41 L203.57,132.45 L204.56,132.49 L205.55,132.53 L206.55,132.57 L207.54,132.62 L208.53,132.66 L209.52,132.70 L210.52,132.75 L211.51,132.79 L212.50,132.83 L213.49,132.87 L214.48,132.91 L215.48,132.95 L216.47,132.99 L217.46,133.03 L218.45,133.06 L219.45,133.10 L220.44,133.13 L221.43,133.16 L222.42,133.19 L223.41,133.22 L224.41,133.24 L225.40,133.27 L226.39,133.29 L227.38,133.31 L228.37,133.33 L229.37,133.35 L230.36,133.36 L231.35,133.38 L232.34,133.40 L233.34,133.41 L234.33,133.43 L235.32,133.45 L236.31,133.46 L237.30,133.48 L238.30,133.49 L239.29,133.51 L240.28,133.52 L241.27,133.53 L242.26,133.55 L243.26,133.56 L244.25,133.57 L245.24,133.59 L246.23,133.60 L247.23,133.61 L248.22,133.62 L249.21,133.64 L250.20,133.65 L251.19,133.66 L252.19,133.67 L253.18,133.68 L254.17,133.69 L255.16,133.70 L256.16,133.71 L257.15,133.72 L258.14,133.73 L259.13,133.74 L260.12,133.75 L261.12,133.76 L262.11,133.77 L263.10,133.78 L264.09,133.79 L265.08,133.80 L266.08,133.81 L267.07,133.82 L268.06,133.83 L269.05,133.84 L270.05,133.85 L271.04,133.85 L272.03,133.86 L273.02,133.87 L274.01,133.88 L275.01,133.89 L276.00,133.90 L276.99,133.91 L277.98,133.91 L278.97,133.92 L279.97,133.93 L280.96,133.94 L281.95,133.95 L282.94,133.96 L283.94,133.97 L284.93,133.97 L285.92,133.98 L286.91,133.99 L287.90,134.00 L288.90,134.01 L289.89,134.02 L290.88,134.02 L291.87,134.03 L292.87,134.04 L293.86,134.05 L294.85,134.05 L295.84,134.06 L296.83,134.07 L297.83,134.08 L298.82,134.09 L299.81,134.09 L300.80,134.10 L301.79,134.11 L302.79,134.11 L303.78,134.12 L304.77,134.13 L305.76,134.14 L306.76,134.14 L307.75,134.15 L308.74,134.16 L309.73,134.16 L310.72,134.17 L311.72,134.18 L312.71,134.18 L313.70,134.19 L314.69,134.19 L315.68,134.20 L316.68,134.21 L317.67,134.21 L318.66,134.22 L319.65,134.22 L320.65,134.23 L321.64,134.24 L322.63,134.24 L323.62,134.25 L324.61,134.25 L325.61,134.26 L326.60,134.26 L327.59,134.27 L328.58,134.27 L329.58,134.28 L330.57,134.28 L331.56,134.28 L332.55,134.29 L333.54,134.29 L334.54,134.30 L335.53,134.30" stroke="#ff0000" stroke-dasharray="6.6 12.6" stroke-linecap="round" stroke-linejoin="round"/>
<path d="M138.09,121.50 L139.08,121.69 L140.07,121.87 L141.06,122.05 L142.06,122.22 L143.05,122.38 L144.04,122.53 L145.03,122.67 L146.03,122.81 L147.02,122.93 L148.01,123.05 L149.00,123.16 L149.99,123.26 L150.99,123.37 L151.98,123.46 L152.97,123.56 L153.96,123.65 L154.95,123.74 L155.95,123.83 L156.94,123.92 L157.93,124.01 L158.92,124.10 L159.92,124.19 L160.91,124.28 L161.90,124.36 L162.89,124.45 L163.88,124.54 L164.88,124.62 L165.87,124.70 L166.86,124.77 L167.85,124.84 L168.84,124.90 L169.84,124.96 L170.83,125.01 L171.82,125.05 L172.81,125.10 L173.81,125.14 L174.80,125.18 L175.79,125.22 L176.78,125.26 L177.77,125.30 L178.77,125.33 L179.76,125.37 L180.75,125.40 L181.74,125.43 L182.74,125.47 L183.73,125.50 L184.72,125.53 L185.71,125.56 L186.70,125.58 L187.70,125.61 L188.69,125.64 L189.68,125.66 L190.67,125.69 L191.66,125.72 L192.66,125.74 L193.65,125.77 L194.64,125.79 L195.63,125.82 L196.63,125.84 L197.62,125.87 L198.61,125.89 L199.60,125.92 L200.59,125.94 L201.59,125.97 L202.58,125.99 L203.57,126.02 L204.56,126.04 L205.55,126.07 L206.55,126.10 L207.54,126.12 L208.53,126.15 L209.52,126.18 L210.52,126.21 L211.51,126.24 L212.50,126.27 L213.49,126.30 L214.48,126.33 L215.48,126.36 L216.47,126.39 L217.46,126.42 L218.45,126.45 L219.45,126.48 L220.44,126.51 L221.43,126.54 L222.42,126.56 L223.41,126.59 L224.41,126.62 L225.40,126.65 L226.39,126.68 L227.38,126.71 L228.37,126.74 L229.37,126.77 L230.36,126.80 L231.35,126.83 L232.34,126.86 L233.34,126.89 L234.33,126.92 L235.32,126.95 L236.31,126.98 L237.30,127.02 L238.30,127.05 L239.29,127.08 L240.28,127.11 L241.27,127.14 L242.26,127.18 L243.26,127.21 L244.25,127.24 L245.24,127.27 L246.23,127.31 L247.23,127.34 L248.22,127.38 L249.21,127.41 L250.20,127.44 L251.19,127.48 L252.19,127.51 L253.18,127.55 L254.17,127.58 L255.16,127.61 L256.16,127.65 L257.15,127.68 L258.14,127.72 L259.13,127.75 L260.12,127.78 L261.12,127.82 L262.11,127.85 L263.10,127.88 L264.09,127.92 L265.08,127.95 L266.08,127.98 L267.07,128.02 L268.06,128.05 L269.05,128.08 L270.05,128.11 L271.04,128.14 L272.03,128.17 L273.02,128.20 L274.01,128.23 L275.01,128.26 L276.00,128.29 L276.99,128.32 L277.98,128.35 L278.97,128.38 L279.97,128.41 L280.96,128.43 L281.95,128.46 L282.94,128.49 L283.94,128.52 L284.93,128.55 L285.92,128.57 L286.91,128.60 L287.90,128.63 L288.90,128.66 L289.89,128.68 L290.88,128.71 L291.87,128.74 L292.87,128.77 L293.86,128.79 L294.85,128.82 L295.84,128.85 L296.83,128.87 L297.83,128.90 L298.82,128.93 L299.81,128.95 L300.80,128.98 L301.79,129.00 L302.79,129.03 L303.78,129.06 L304.77,129.08 L305.76,129.11 L306.76,129.13 L307.75,129.16 L308.74,129.18 L309.73,129.21 L310.72,129.23 L311.72,129.26 L312.71,129.28 L313.70,129.30 L314.69,129.33 L315.68,129.35 L316.68,129.38 L317.67,129.40 L318.66,129.42 L319.65,129.45 L320.65,129.47 L321.64,129.49 L322.63,129.52 L323.62,129.54 L324.61,129.56 L325.61,129.59 L326.60,129.61 L327.59,129.63 L328.58,129.65 L329.58,129.67 L330.57,129.69 L331.56,129.72 L332.55,129.74 L333.54,129.76 L334.54,129.78 L335.53,129.80" stroke="#00ff00" stroke-linecap="round"/>
<path d="M138.09,121.80 L139.08,121.80 L140.07,121.80 L141.06,121.80 L142.06,121.80 L143.05,121.80 L144.04,121.80 L145.03,121.80 L146.03,121.80 L147.02,121.80 L148.01,121.80 L149.00,121.80 L149.99,121.80 L150.99,121.80 L151.98,121.79 L152.97,121.79 L153.96,121.79 L154.95,121.79 L155.95,121.79 L156.94,121.79 L157.93,121.79 L158.92,121.79 L159.92,121.78 L160.91,121.78 L161.90,121.78 L162.89,121.78 L163.88,121.78 L164.88,121.78 L165.87,121.77 L166.86,121.77 L167.85,121.77 L168.84,121.77 L169.84,121.77 L170.83,121.76 L171.82,121.76 L172.81,121.76 L173.81,121.76 L174.80,121.75 L175.79,121.75 L176.78,121.75 L177.77,121.74 L178.77,121.74 L179.76,121.74 L180.75,121.73 L181.74,121.73 L182.74,121.73 L183.73,121.72 L184.72,121.72 L185.71,121.72 L186.70,121.71 L187.70,121.71 L188.69,121.70 L189.68,121.70 L190.67,121.69 L191.66,121.69 L192.66,121.68 L193.65,121.68 L194.64,121.67 L195.63,121.67 L196.63,121.66 L197.62,121.66 L198.61,121.65 L199.60,121.65 L200.59,121.64 L201.59,121.64 L202.58,121.63 L203.57,121.62 L204.56,121.62 L205.55,121.61 L206.55,121.60 L207.54,121.60 L208.53,121.57 L209.52,121.52 L210.52,121.44 L211.51,121.35 L212.50,121.25 L213.49,121.13 L214.48,121.00 L215.48,120.86 L216.47,120.72 L217.46,120.57 L218.45,120.43 L219.45,120.29 L220.44,120.15 L221.43,120.03 L222.42,119.91 L223.41,119.81 L224.41,119.73 L225.40,119.66 L226.39,119.61 L227.38,119.59 L228.37,119.57 L229.37,119.55 L230.36,119.54 L231.35,119.52 L232.34,119.50 L233.34,119.49 L234.33,119.47 L235.32,119.46 L236.31,119.44 L237.30,119.43 L238.30,119.42 L239.29,119.41 L240.28,119.39 L241.27,119.38 L242.26,119.37 L243.26,119.36 L244.25,119.35 L245.24,119.35 L246.23,119.34 L247.23,119.33 L248.22,119.33 L249.21,119.32 L250.20,119.31 L251.19,119.31 L252.19,119.31 L253.18,119.30 L254.17,119.30 L255.16,119.30 L256.16,119.30 L257.15,119.30 L258.14,119.30 L259.13,119.30 L260.12,119.30 L261.12,119.30 L262.11,119.30 L263.10,119.31 L264.09,119.31 L265.08,119.31 L266.08,119.31 L267.07,119.31 L268.06,119.32 L269.05,119.32 L270.05,119.32 L271.04,119.32 L272.03,119.33 L273.02,119.33 L274.01,119.34 L275.01,119.34 L276.00,119.34 L276.99,119.35 L277.98,119.35 L278.97,119.36 L279.97,119.36 L280.96,119.37 L281.95,119.37 L282.94,119.38 L283.94,119.39 L284.93,119.39 L285.92,119.40 L286.91,119.41 L287.90,119.42 L288.90,119.45 L289.89,119.48 L290.88,119.52 L291.87,119.56 L292.87,119.61 L293.86,119.66 L294.85,119.72 L295.84,119.78 L296.83,119.84 L297.83,119.90 L298.82,119.97 L299.81,120.03 L300.80,120.10 L301.79,120.16 L302.79,120.22 L303.78,120.28 L304.77,120.34 L305.76,120.40 L306.76,120.45 L307.75,120.49 L308.74,120.53 L309.73,120.57 L310.72,120.60 L311.72,120.62 L312.71,120.65 L313.70,120.67 L314.69,120.69 L315.68,120.72 L316.68,120.74 L317.67,120.76 L318.66,120.78 L319.65,120.80 L320.65,120.83 L321.64,120.85 L322.63,120.86 L323.62,120.88 L324.61,120.90 L325.61,120.92 L326.60,120.93 L327.59,120.94 L328.58,120.96 L329.58,120.97 L330.57,120.98 L331.56,120.99 L332.55,120.99 L333.54,121.00 L334.54,121.00 L335.53,121.00" stroke="#00ff00" stroke-dasharray="6.6 12.6" stroke-linecap="round" stroke-linejoin="round"/>
<path d="M138.09,131.30 L139.08,131.39 L140.07,131.47 L141.06,131.56 L142.06,131.64 L143.05,131.73 L144.04,131.81 L145.03,131.89 L146.03,131.97 L147.02,132.05 L148.01,132.13 L149.00,132.21 L149.99,132.29 L150.99,132.36 L151.98,132.44 L152.97,132.51 L153.96,132.58 L154.95,132.65 L155.95,132.72 L156.94,132.79 L157.93,132.86 L158.92,132.92 L159.92,132.99 L160.91,133.05 L161.90,133.11 L162.89,133.18 L163.88,133.24 L164.88,133.30 L165.87,133.36 L166.86,133.41 L167.85,133.47 L168.84,133.53 L169.84,133.59 L170.83,133.64 L171.82,133.70 L172.81,133.75 L173.81,133.80 L174.80,133.86 L175.79,133.91 L176.78,133.96 L177.77,134.01 L178.77,134.06 L179.76,134.11 L180.75,134.16 L181.74,134.21 L182.74,134.25 L183.73,134.30 L184.72,134.35 L185.71,134.39 L186.70,134.44 L187.70,134.48 L188.69,134.53 L189.68,134.57 L190.67,134.61 L191.66,134.66 L192.66,134.70 L193.65,134.74 L194.64,134.78 L195.63,134.83 L196.63,134.87 L197.62,134.91 L198.61,134.96 L199.60,135.00 L200.59,135.04 L201.59,135.08 L202.58,135.13 L203.57,135.17 L204.56,135.21 L205.55,135.25 L206.55,135.29 L207.54,135.33 L208.53,135.38 L209.52,135.42 L210.52,135.46 L211.51,135.50 L212.50,135.54 L213.49,135.58 L214.48,135.62 L215.48,135.66 L216.47,135.70 L217.46,135.74 L218.45,135.78 L219.45,135.82 L220.44,135.86 L221.43,135.89 L222.42,135.93 L223.41,135.97 L224.41,136.01 L225.40,136.04 L226.39,136.08 L227.38,136.12 L228.37,136.15 L229.37,136.19 L230.36,136.22 L231.35,136.26 L232.34,136.29 L233.34,136.33 L234.33,136.36 L235.32,136.40 L236.31,136.43 L237.30,136.46 L238.30,136.50 L239.29,136.53 L240.28,136.56 L241.27,136.60 L242.26,136.63 L243.26,136.66 L244.25,136.69 L245.24,136.73 L246.23,136.76 L247.23,136.79 L248.22,136.82 L249.21,136.85 L250.20,136.89 L251.19,136.92 L252.19,136.95 L253.18,136.98 L254.17,137.01 L255.16,137.04 L256.16,137.07 L257.15,137.11 L258.14,137.14 L259.13,137.17 L260.12,137.20 L261.12,137.23 L262.11,137.26 L263.10,137.29 L264.09,137.32 L265.08,137.35 L266.08,137.38 L267.07,137.41 L268.06,137.44 L269.05,137.47 L270.05,137.51 L271.04,137.54 L272.03,137.57 L273.02,137.60 L274.01,137.63 L275.01,137.66 L276.00,137.69 L276.99,137.72 L277.98,137.75 L278.97,137.78 L279.97,137.82 L280.96,137.85 L281.95,137.88 L282.94,137.91 L283.94,137.94 L284.93,137.98 L285.92,138.01 L286.91,138.04 L287.90,138.07 L288.90,138.11 L289.89,138.14 L290.88,138.17 L291.87,138.20 L292.87,138.23 L293.86,138.26 L294.85,138.29 L295.84,138.32 L296.83,138.35 L297.83,138.38 L298.82,138.41 L299.81,138.44 L300.80,138.47 L301.79,138.49 L302.79,138.52 L303.78,138.55 L304.77,138.57 L305.76,138.60 L306.76,138.62 L307.75,138.64 L308.74,138.67 L309.73,138.69 L310.72,138.71 L311.72,138.74 L312.71,138.76 L313.70,138.78 L314.69,138.80 L315.68,138.83 L316.68,138.85 L317.67,138.87 L318.66,138.89 L319.65,138.91 L320.65,138.93 L321.64,138.95 L322.63,138.97 L323.62,138.99 L324.61,139.01 L325.61,139.03 L326.60,139.05 L327.59,139.07 L328.58,139.08 L329.58,139.10 L330.57,139.12 L331.56,139.14 L332.55,139.15 L333.54,139.17 L334.54,139.18 L335.53,139.20" stroke="#00ff00" stroke-dasharray="6.6 12.6" stroke-linecap="round" stroke-linejoin="round"/>
<path d="M138.09,114.10 L139.08,114.10 L140.07,114.10 L141.06,114.10 L142.06,114.10 L143.05,114.09 L144.04,114.09 L145.03,114.09 L146.03,114.09 L147.02,114.09 L148.01,114.09 L149.00,114.09 L149.99,114.09 L150.99,114.09 L151.98,114.08 L152.97,114.08 L153.96,114.08 L154.95,114.08 L155.95,114.08 L156.94,114.08 L157.93,114.08 L158.92,114.08 L159.92,114.08 L160.91,114.07 L161.90,114.07 L162.89,114.07 L163.88,114.07 L164.88,114.07 L165.87,114.07 L166.86,114.07 L167.85,114.07 L168.84,114.06 L169.84,114.06 L170.83,114.06 L171.82,114.06 L172.81,114.06 L173.81,114.06 L174.80,114.06 L175.79,114.06 L176.78,114.05 L177.77,114.05 L178.77,114.05 L179.76,114.05 L180.75,114.05 L181.74,114.05 L182.74,114.05 L183.73,114.05 L184.72,114.04 L185.71,114.04 L186.70,114.04 L187.70,114.04 L188.69,114.04 L189.68,114.04 L190.67,114.04 L191.66,114.04 L192.66,114.03 L193.65,114.03 L194.64,114.03 L195.63,114.03 L196.63,114.03 L197.62,114.03 L198.61,114.03 L199.60,114.02 L200.59,114.02 L201.59,114.02 L202.58,114.02 L203.57,114.02 L204.56,114.02 L205.55,114.02 L206.55,114.01 L207.54,114.01 L208.53,114.01 L209.52,114.01 L210.52,114.01 L211.51,114.01 L212.50,114.01 L213.49,114.01 L214.48,114.00 L215.48,114.00 L216.47,114.00 L217.46,114.00 L218.45,114.00 L219.45,114.00 L220.44,114.00 L221.43,113.99 L222.42,113.99 L223.41,113.99 L224.41,113.99 L225.40,113.99 L226.39,113.99 L227.38,113.98 L228.37,113.98 L229.37,113.98 L230.36,113.98 L231.35,113.98 L232.34,113.98 L233.34,113.98 L234.33,113.97 L235.32,113.97 L236.31,113.97 L237.30,113.97 L238.30,113.97 L239.29,113.97 L240.28,113.97 L241.27,113.96 L242.26,113.96 L243.26,113.96 L244.25,113.96 L245.24,113.96 L246.23,113.96 L247.23,113.95 L248.22,113.95 L249.21,113.95 L250.20,113.95 L251.19,113.95 L252.19,113.95 L253.18,113.95 L254.17,113.94 L255.16,113.94 L256.16,113.94 L257.15,113.94 L258.14,113.94 L259.13,113.94 L260.12,113.93 L261.12,113.93 L262.11,113.93 L263.10,113.93 L264.09,113.93 L265.08,113.93 L266.08,113.92 L267.07,113.92 L268.06,113.92 L269.05,113.92 L270.05,113.92 L271.04,113.92 L272.03,113.91 L273.02,113.91 L274.01,113.91 L275.01,113.91 L276.00,113.91 L276.99,113.91 L277.98,113.90 L278.97,113.90 L279.97,113.90 L280.96,113.90 L281.95,113.90 L282.94,113.90 L283.94,113.89 L284.93,113.89 L285.92,113.89 L286.91,113.89 L287.90,113.89 L288.90,113.89 L289.89,113.88 L290.88,113.88 L291.87,113.88 L292.87,113.88 L293.86,113.88 L294.85,113.88 L295.84,113.87 L296.83,113.87 L297.83,113.87 L298.82,113.87 L299.81,113.87 L300.80,113.86 L301.79,113.86 L302.79,113.86 L303.78,113.86 L304.77,113.86 L305.76,113.86 L306.76,113.85 L307.75,113.85 L308.74,113.85 L309.73,113.85 L310.72,113.85 L311.72,113.85 L312.71,113.84 L313.70,113.84 L314.69,113.84 L315.68,113.84 L316.68,113.84 L317.67,113.83 L318.66,113.83 L319.65,113.83 L320.65,113.83 L321.64,113.83 L322.63,113.82 L323.62,113.82 L324.61,113.82 L325.61,113.82 L326.60,113.82 L327.59,113.82 L328.58,113.81 L329.58,113.81 L330.57,113.81 L331.56,113.81 L332.55,113.81 L333.54,113.80 L334.54,113.80 L335.53,113.80" stroke="#ffa500" stroke-linecap="round"/>
<path d="M138.09,117.70 L139.08,117.71 L140.07,117.71 L141.06,117.72 L142.06,117.73 L143.05,117.74 L144.04,117.74 L145.03,117.75 L146.03,117.76 L147.02,117.76 L148.01,117.77 L149.00,117.77 L149.99,117.78 L150.99,117.78 L151.98,117.79 L152.97,117.79 L153.96,117.79 L154.95,117.80 L155.95,117.80 L156.94,117.80 L157.93,117.80 L158.92,117.80 L159.92,117.80 L160.91,117.80 L161.90,117.80 L162.89,117.80 L163.88,117.79 L164.88,117.79 L165.87,117.79 L166.86,117.79 L167.85,117.78 L168.84,117.78 L169.84,117.78 L170.83,117.77 L171.82,117.77 L172.81,117.76 L173.81,117.76 L174.80,117.76 L175.79,117.75 L176.78,117.75 L177.77,117.74 L178.77,117.73 L179.76,117.73 L180.75,117.72 L181.74,117.72 L182.74,117.71 L183.73,117.70 L184.72,117.70 L185.71,117.69 L186.70,117.69 L187.70,117.68 L188.69,117.67 L189.68,117.66 L190.67,117.66 L191.66,117.65 L192.66,117.64 L193.65,117.64 L194.64,117.63 L195.63,117.62 L196.63,117.61 L197.62,117.61 L198.61,117.60 L199.60,117.59 L200.59,117.58 L201.59,117.57 L202.58,117.57 L203.57,117.56 L204.56,117.55 L205.55,117.54 L206.55,117.54 L207.54,117.53 L208.53,117.52 L209.52,117.51 L210.52,117.51 L211.51,117.50 L212.50,117.49 L213.49,117.48 L214.48,117.48 L215.48,117.47 L216.47,117.46 L217.46,117.46 L218.45,117.45 L219.45,117.44 L220.44,117.44 L221.43,117.43 L222.42,117.43 L223.41,117.42 L224.41,117.41 L225.40,117.41 L226.39,117.40 L227.38,117.40 L228.37,117.39 L229.37,117.39 L230.36,117.38 L231.35,117.38 L232.34,117.37 L233.34,117.37 L234.33,117.36 L235.32,117.36 L236.31,117.35 L237.30,117.35 L238.30,117.34 L239.29,117.34 L240.28,117.33 L241.27,117.33 L242.26,117.32 L243.26,117.32 L244.25,117.31 L245.24,117.31 L246.23,117.30 L247.23,117.30 L248.22,117.29 L249.21,117.29 L250.20,117.28 L251.19,117.28 L252.19,117.27 L253.18,117.27 L254.17,117.26 L255.16,117.26 L256.16,117.25 L257.15,117.25 L258.14,117.24 L259.13,117.24 L260.12,117.23 L261.12,117.23 L262.11,117.22 L263.10,117.22 L264.09,117.21 L265.08,117.21 L266.08,117.20 L267.07,117.20 L268.06,117.19 L269.05,117.19 L270.05,117.19 L271.04,117.18 L272.03,117.18 L273.02,117.17 L274.01,117.17 L275.01,117.16 L276.00,117.16 L276.99,117.15 L277.98,117.15 L278.97,117.14 L279.97,117.14 L280.96,117.13 L281.95,117.13 L282.94,117.12 L283.94,117.12 L284.93,117.12 L285.92,117.11 L286.91,117.11 L287.90,117.10 L288.90,117.10 L289.89,117.09 L290.88,117.09 L291.87,117.08 L292.87,117.08 L293.86,117.07 L294.85,117.07 L295.84,117.07 L296.83,117.06 L297.83,117.06 L298.82,117.05 L299.81,117.05 L300.80,117.04 L301.79,117.04 L302.79,117.04 L303.78,117.03 L304.77,117.03 L305.76,117.02 L306.76,117.02 L307.75,117.01 L308.74,117.01 L309.73,117.01 L310.72,117.00 L311.72,117.00 L312.71,116.99 L313.70,116.99 L314.69,116.98 L315.68,116.98 L316.68,116.98 L317.67,116.97 L318.66,116.97 L319.65,116.96 L320.65,116.96 L321.64,116.96 L322.63,116.95 L323.62,116.95 L324.61,116.94 L325.61,116.94 L326.60,116.94 L327.59,116.93 L328.58,116.93 L329.58,116.92 L330.57,116.92 L331.56,116.92 L332.55,116.91 L333.54,116.91 L334.54,116.90 L335.53,116.90" stroke="#ff00ff" stroke-linecap="round"/>
<path d="M138.09,113.50 L139.08,113.54 L140.07,113.59 L141.06,113.63 L142.06,113.67 L143.05,113.71 L144.04,113.74 L145.03,113.78 L146.03,113.81 L147.02,113.84 L148.01,113.86 L149.00,113.89 L149.99,113.91 L150.99,113.93 L151.98,113.95 L152.97,113.97 L153.96,113.98 L154.95,113.99 L155.95,113.99 L156.94,114.00 L157.93,114.00 L158.92,114.00 L159.92,113.99 L160.91,113.98 L161.90,113.97 L162.89,113.96 L163.88,113.94 L164.88,113.93 L165.87,113.91 L166.86,113.89 L167.85,113.87 L168.84,113.85 L169.84,113.83 L170.83,113.80 L171.82,113.78 L172.81,113.77 L173.81,113.75 L174.80,113.73 L175.79,113.72 L176.78,113.71 L177.77,113.70 L178.77,113.69 L179.76,113.68 L180.75,113.68 L181.74,113.67 L182.74,113.66 L183.73,113.66 L184.72,113.65 L185.71,113.65 L186.70,113.64 L187.70,113.63 L188.69,113.63 L189.68,113.62 L190.67,113.62 L191.66,113.62 L192.66,113.61 L193.65,113.61 L194.64,113.60 L195.63,113.60 L196.63,113.59 L197.62,113.59 L198.61,113.59 L199.60,113.58 L200.59,113.58 L201.59,113.57 L202.58,113.57 L203.57,113.57 L204.56,113.56 L205.55,113.56 L206.55,113.55 L207.54,113.55 L208.53,113.55 L209.52,113.54 L210.52,113.54 L211.51,113.53 L212.50,113.53 L213.49,113.52 L214.48,113.52 L215.48,113.51 L216.47,113.50 L217.46,113.50 L218.45,113.49 L219.45,113.48 L220.44,113.48 L221.43,113.47 L222.42,113.46 L223.41,113.46 L224.41,113.45 L225.40,113.44 L226.39,113.43 L227.38,113.42 L228.37,113.41 L229.37,113.41 L230.36,113.40 L231.35,113.39 L232.34,113.38 L233.34,113.37 L234.33,113.36 L235.32,113.35 L236.31,113.34 L237.30,113.33 L238.30,113.32 L239.29,113.31 L240.28,113.30 L241.27,113.29 L242.26,113.28 L243.26,113.27 L244.25,113.26 L245.24,113.25 L246.23,113.24 L247.23,113.23 L248.22,113.22 L249.21,113.21 L250.20,113.20 L251.19,113.20 L252.19,113.19 L253.18,113.18 L254.17,113.17 L255.16,113.16 L256.16,113.15 L257.15,113.14 L258.14,113.13 L259.13,113.12 L260.12,113.11 L261.12,113.10 L262.11,113.10 L263.10,113.09 L264.09,113.08 L265.08,113.07 L266.08,113.06 L267.07,113.06 L268.06,113.05 L269.05,113.04 L270.05,113.04 L271.04,113.03 L272.03,113.02 L273.02,113.02 L274.01,113.01 L275.01,113.01 L276.00,113.00 L276.99,113.00 L277.98,112.99 L278.97,112.99 L279.97,112.98 L280.96,112.98 L281.95,112.97 L282.94,112.97 L283.94,112.96 L284.93,112.96 L285.92,112.95 L286.91,112.95 L287.90,112.95 L288.90,112.94 L289.89,112.94 L290.88,112.93 L291.87,112.93 L292.87,112.92 L293.86,112.92 L294.85,112.91 L295.84,112.91 L296.83,112.91 L297.83,112.90 L298.82,112.90 L299.81,112.89 L300.80,112.89 L301.79,112.89 L302.79,112.88 L303.78,112.88 L304.77,112.87 L305.76,112.87 L306.76,112.87 L307.75,112.86 L308.74,112.86 L309.73,112.86 L310.72,112.85 L311.72,112.85 L312.71,112.85 L313.70,112.84 L314.69,112.84 L315.68,112.84 L316.68,112.84 L317.67,112.83 L318.66,112.83 L319.65,112.83 L320.65,112.83 L321.64,112.82 L322.63,112.82 L323.62,112.82 L324.61,112.82 L325.61,112.81 L326.60,112.81 L327.59,112.81 L328.58,112.81 L329.58,112.81 L330.57,112.81 L331.56,112.80 L332.55,112.80 L333.54,112.80 L334.54,112.80 L335.53,112.80" stroke="#ff00ff" stroke-dasharray="6.6 12.6" stroke-linecap="round" stroke-linejoin="round"/>
<path d="M138.09,122.00 L139.08,122.00 L140.07,122.00 L141.06,122.00 L142.06,122.00 L143.05,122.00 L144.04,122.00 L145.03,122.00 L146.03,122.00 L147.02,122.00 L148.01,122.00 L149.00,122.00 L149.99,122.00 L150.99,122.00 L151.98,122.00 L152.97,122.00 L153.96,122.00 L154.95,122.00 L155.95,122.00 L156.94,122.00 L157.93,122.00 L158.92,122.00 L159.92,122.00 L160.91,122.00 L161.90,122.00 L162.89,122.00 L163.88,122.00 L164.88,122.00 L165.87,122.00 L166.86,122.00 L167.85,122.00 L168.84,122.00 L169.84,122.00 L170.83,122.00 L171.82,122.00 L172.81,122.00 L173.81,122.00 L174.80,122.00 L175.79,122.00 L176.78,122.00 L177.77,122.00 L178.77,122.00 L179.76,122.00 L180.75,122.00 L181.74,122.00 L182.74,122.00 L183.73,122.00 L184.72,122.00 L185.71,121.99 L186.70,121.99 L187.70,121.99 L188.69,121.99 L189.68,121.99 L190.67,121.99 L191.66,121.98 L192.66,121.98 L193.65,121.98 L194.64,121.98 L195.63,121.97 L196.63,121.97 L197.62,121.97 L198.61,121.97 L199.60,121.96 L200.59,121.96 L201.59,121.96 L202.58,121.95 L203.57,121.95 L204.56,121.95 L205.55,121.94 L206.55,121.94 L207.54,121.94 L208.53,121.93 L209.52,121.93 L210.52,121.93 L211.51,121.92 L212.50,121.92 L213.49,121.91 L214.48,121.91 L215.48,121.91 L216.47,121.90 L217.46,121.90 L218.45,121.89 L219.45,121.89 L220.44,121.88 L221.43,121.88 L222.42,121.87 L223.41,121.87 L224.41,121.86 L225.40,121.85 L226.39,121.85 L227.38,121.84 L228.37,121.83 L229.37,121.83 L230.36,121.82 L231.35,121.81 L232.34,121.80 L233.34,121.79 L234.33,121.78 L235.32,121.77 L236.31,121.76 L237.30,121.75 L238.30,121.74 L239.29,121.73 L240.28,121.72 L241.27,121.71 L242.26,121.70 L243.26,121.69 L244.25,121.68 L245.24,121.67 L246.23,121.66 L247.23,121.65 L248.22,121.63 L249.21,121.62 L250.20,121.61 L251.19,121.60 L252.19,121.59 L253.18,121.58 L254.17,121.56 L255.16,121.55 L256.16,121.54 L257.15,121.53 L258.14,121.51 L259.13,121.50 L260.12,121.49 L261.12,121.48 L262.11,121.47 L263.10,121.45 L264.09,121.44 L265.08,121.43 L266.08,121.42 L267.07,121.41 L268.06,121.39 L269.05,121.38 L270.05,121.37 L271.04,121.36 L272.03,121.35 L273.02,121.34 L274.01,121.33 L275.01,121.31 L276.00,121.30 L276.99,121.29 L277.98,121.28 L278.97,121.27 L279.97,121.26 L280.96,121.25 L281.95,121.24 L282.94,121.23 L283.94,121.22 L284.93,121.20 L285.92,121.19 L286.91,121.18 L287.90,121.17 L288.90,121.16 L289.89,121.15 L290.88,121.14 L291.87,121.13 L292.87,121.11 L293.86,121.10 L294.85,121.09 L295.84,121.08 L296.83,121.07 L297.83,121.06 L298.82,121.05 L299.81,121.03 L300.80,121.02 L301.79,121.01 L302.79,121.00 L303.78,120.99 L304.77,120.98 L305.76,120.96 L306.76,120.95 L307.75,120.94 L308.74,120.93 L309.73,120.92 L310.72,120.91 L311.72,120.89 L312.71,120.88 L313.70,120.87 L314.69,120.86 L315.68,120.85 L316.68,120.83 L317.67,120.82 L318.66,120.81 L319.65,120.80 L320.65,120.79 L321.64,120.77 L322.63,120.76 L323.62,120.75 L324.61,120.74 L325.61,120.72 L326.60,120.71 L327.59,120.70 L328.58,120.69 L329.58,120.67 L330.57,120.66 L331.56,120.65 L332.55,120.64 L333.54,120.63 L334.54,120.61 L335.53,120.60" stroke="#ff00ff" stroke-dasharray="6.6 12.6" stroke-linecap="round" stroke-linejoin="round"/>
</g>
<line x1="88.73" y1="70.13" x2="365.54" y2="70.13" stroke="#a8a8a8" stroke-width="2.2"/>
<line x1="88.73" y1="92.96" x2="365.54" y2="92.96" stroke="#a8a8a8" stroke-width="2.2"/>
<line x1="88.73" y1="138.64" x2="365.54" y2="138.64" stroke="#a8a8a8" stroke-width="2.2"/>
<line x1="88.73" y1="161.47" x2="365.54" y2="161.47" stroke="#a8a8a8" stroke-width="2.2"/>
<path d="M76.23,47.00 H88.73 V184.00 H76.23" fill="none" stroke="#000" stroke-width="1.5"/>
<line x1="76.23" y1="69.83" x2="88.73" y2="69.83" stroke="#000" stroke-width="1.5"/>
<line x1="76.23" y1="92.66" x2="88.73" y2="92.66" stroke="#000" stroke-width="1.5"/>
<line x1="76.23" y1="115.50" x2="88.73" y2="115.50" stroke="#000" stroke-width="1.5"/>
<line x1="76.23" y1="138.34" x2="88.73" y2="138.34" stroke="#000" stroke-width="1.5"/>
<line x1="76.23" y1="161.17" x2="88.73" y2="161.17" stroke="#000" stroke-width="1.5"/>
<path d="M98.60,202.00 V189.5 H345.40 V202.00" fill="none" stroke="#000" stroke-width="1.5"/>
<line x1="147.96" y1="189.5" x2="147.96" y2="202.0" stroke="#000" stroke-width="1.5"/>
<line x1="197.32" y1="189.5" x2="197.32" y2="202.0" stroke="#000" stroke-width="1.5"/>
<line x1="246.68" y1="189.5" x2="246.68" y2="202.0" stroke="#000" stroke-width="1.5"/>
<line x1="296.04" y1="189.5" x2="296.04" y2="202.0" stroke="#000" stroke-width="1.5"/>
<g transform="translate(98.60,230.8) scale(1,1.045)"><text x="-5.28" y="0" font-family="Liberation Sans, sans-serif" stroke="#000" stroke-width="0.3" font-size="19">0</text></g>
<g transform="translate(147.96,230.8) scale(1,1.045)"><text x="-5.28" y="0" font-family="Liberation Sans, sans-serif" stroke="#000" stroke-width="0.3" font-size="19">5</text></g>
<g transform="translate(197.32,230.8) scale(1,1.045)"><path d="M-5.65,0.00 L-5.65,-11.48 L-8.63,-9.37 L-8.63,-10.95 L-5.51,-13.07 L-3.97,-13.07 L-3.97,0.00Z" fill="#000" stroke="#000" stroke-width="0.3"/><text x="0.00" y="0" font-family="Liberation Sans, sans-serif" stroke="#000" stroke-width="0.3" font-size="19">0</text></g>
<g transform="translate(246.68,230.8) scale(1,1.045)"><path d="M-5.65,0.00 L-5.65,-11.48 L-8.63,-9.37 L-8.63,-10.95 L-5.51,-13.07 L-3.97,-13.07 L-3.97,0.00Z" fill="#000" stroke="#000" stroke-width="0.3"/><text x="0.00" y="0" font-family="Liberation Sans, sans-serif" stroke="#000" stroke-width="0.3" font-size="19">5</text></g>
<g transform="translate(296.04,230.8) scale(1,1.045)"><text x="-10.57" y="0" font-family="Liberation Sans, sans-serif" stroke="#000" stroke-width="0.3" font-size="19">20</text></g>
<g transform="translate(345.40,230.8) scale(1,1.045)"><text x="-10.57" y="0" font-family="Liberation Sans, sans-serif" stroke="#000" stroke-width="0.3" font-size="19">25</text></g>
<g transform="translate(60.83,47.00) rotate(-90) scale(1,1.02)"><path d="M-5.65,0.00 L-5.65,-11.48 L-8.63,-9.37 L-8.63,-10.95 L-5.51,-13.07 L-3.97,-13.07 L-3.97,0.00Z" fill="#000" stroke="#000" stroke-width="0.3"/><text x="0.00" y="0" font-family="Liberation Sans, sans-serif" stroke="#000" stroke-width="0.3" font-size="19">5</text></g>
<g transform="translate(60.83,92.66) rotate(-90) scale(1,1.02)"><text x="-5.28" y="0" font-family="Liberation Sans, sans-serif" stroke="#000" stroke-width="0.3" font-size="19">5</text></g>
<g transform="translate(60.83,138.34) rotate(-90) scale(1,1.02)"><path d="M-9.89,-3.74 L-9.89,-5.07 L-0.68,-5.07 L-0.68,-3.74Z" fill="#000" stroke="#000" stroke-width="0.3"/><text x="0.26" y="0" font-family="Liberation Sans, sans-serif" stroke="#000" stroke-width="0.3" font-size="19">5</text></g>
<g transform="translate(60.83,184.00) rotate(-90) scale(1,1.02)"><path d="M-15.17,-3.74 L-15.17,-5.07 L-5.97,-5.07 L-5.97,-3.74Z" fill="#000" stroke="#000" stroke-width="0.3"/><path d="M-0.10,0.00 L-0.10,-11.48 L-3.08,-9.37 L-3.08,-10.95 L0.04,-13.07 L1.58,-13.07 L1.58,0.00Z" fill="#000" stroke="#000" stroke-width="0.3"/><text x="5.55" y="0" font-family="Liberation Sans, sans-serif" stroke="#000" stroke-width="0.3" font-size="19">5</text></g>
<text transform="translate(14.20,114.9) rotate(-90) scale(1,1.045)" text-anchor="middle" font-family="Liberation Sans, sans-serif" stroke="#000" stroke-width="0.3" font-size="19">Difference in CFB</text>
<text transform="translate(226.50,276.7) scale(1,1.045)" text-anchor="middle" font-family="Liberation Sans, sans-serif" stroke="#000" stroke-width="0.3" font-size="18.8">Weeks</text>
<line x1="508.63" y1="70.13" x2="785.44" y2="70.13" stroke="#a8a8a8" stroke-width="2.2"/>
<line x1="508.63" y1="92.96" x2="785.44" y2="92.96" stroke="#a8a8a8" stroke-width="2.2"/>
<line x1="508.63" y1="138.64" x2="785.44" y2="138.64" stroke="#a8a8a8" stroke-width="2.2"/>
<line x1="508.63" y1="161.47" x2="785.44" y2="161.47" stroke="#a8a8a8" stroke-width="2.2"/>
<path d="M496.13,47.00 H508.63 V184.00 H496.13" fill="none" stroke="#000" stroke-width="1.5"/>
<line x1="496.13" y1="69.83" x2="508.63" y2="69.83" stroke="#000" stroke-width="1.5"/>
<line x1="496.13" y1="92.66" x2="508.63" y2="92.66" stroke="#000" stroke-width="1.5"/>
<line x1="496.13" y1="115.50" x2="508.63" y2="115.50" stroke="#000" stroke-width="1.5"/>
<line x1="496.13" y1="138.34" x2="508.63" y2="138.34" stroke="#000" stroke-width="1.5"/>
<line x1="496.13" y1="161.17" x2="508.63" y2="161.17" stroke="#000" stroke-width="1.5"/>
<path d="M518.50,202.00 V189.5 H765.30 V202.00" fill="none" stroke="#000" stroke-width="1.5"/>
<line x1="567.86" y1="189.5" x2="567.86" y2="202.0" stroke="#000" stroke-width="1.5"/>
<line x1="617.22" y1="189.5" x2="617.22" y2="202.0" stroke="#000" stroke-width="1.5"/>
<line x1="666.58" y1="189.5" x2="666.58" y2="202.0" stroke="#000" stroke-width="1.5"/>
<line x1="715.94" y1="189.5" x2="715.94" y2="202.0" stroke="#000" stroke-width="1.5"/>
<g transform="translate(518.50,230.8) scale(1,1.045)"><text x="-5.28" y="0" font-family="Liberation Sans, sans-serif" stroke="#000" stroke-width="0.3" font-size="19">0</text></g>
<g transform="translate(567.86,230.8) scale(1,1.045)"><text x="-5.28" y="0" font-family="Liberation Sans, sans-serif" stroke="#000" stroke-width="0.3" font-size="19">5</text></g>
<g transform="translate(617.22,230.8) scale(1,1.045)"><path d="M-5.65,0.00 L-5.65,-11.48 L-8.63,-9.37 L-8.63,-10.95 L-5.51,-13.07 L-3.97,-13.07 L-3.97,0.00Z" fill="#000" stroke="#000" stroke-width="0.3"/><text x="0.00" y="0" font-family="Liberation Sans, sans-serif" stroke="#000" stroke-width="0.3" font-size="19">0</text></g>
<g transform="translate(666.58,230.8) scale(1,1.045)"><path d="M-5.65,0.00 L-5.65,-11.48 L-8.63,-9.37 L-8.63,-10.95 L-5.51,-13.07 L-3.97,-13.07 L-3.97,0.00Z" fill="#000" stroke="#000" stroke-width="0.3"/><text x="0.00" y="0" font-family="Liberation Sans, sans-serif" stroke="#000" stroke-width="0.3" font-size="19">5</text></g>
<g transform="translate(715.94,230.8) scale(1,1.045)"><text x="-10.57" y="0" font-family="Liberation Sans, sans-serif" stroke="#000" stroke-width="0.3" font-size="19">20</text></g>
<g transform="translate(765.30,230.8) scale(1,1.045)"><text x="-10.57" y="0" font-family="Liberation Sans, sans-serif" stroke="#000" stroke-width="0.3" font-size="19">25</text></g>
<g transform="translate(480.73,47.00) rotate(-90) scale(1,1.02)"><path d="M-5.65,0.00 L-5.65,-11.48 L-8.63,-9.37 L-8.63,-10.95 L-5.51,-13.07 L-3.97,-13.07 L-3.97,0.00Z" fill="#000" stroke="#000" stroke-width="0.3"/><text x="0.00" y="0" font-family="Liberation Sans, sans-serif" stroke="#000" stroke-width="0.3" font-size="19">5</text></g>
<g transform="translate(480.73,92.66) rotate(-90) scale(1,1.02)"><text x="-5.28" y="0" font-family="Liberation Sans, sans-serif" stroke="#000" stroke-width="0.3" font-size="19">5</text></g>
<g transform="translate(480.73,138.34) rotate(-90) scale(1,1.02)"><path d="M-9.89,-3.74 L-9.89,-5.07 L-0.68,-5.07 L-0.68,-3.74Z" fill="#000" stroke="#000" stroke-width="0.3"/><text x="0.26" y="0" font-family="Liberation Sans, sans-serif" stroke="#000" stroke-width="0.3" font-size="19">5</text></g>
<g transform="translate(480.73,184.00) rotate(-90) scale(1,1.02)"><path d="M-15.17,-3.74 L-15.17,-5.07 L-5.97,-5.07 L-5.97,-3.74Z" fill="#000" stroke="#000" stroke-width="0.3"/><path d="M-0.10,0.00 L-0.10,-11.48 L-3.08,-9.37 L-3.08,-10.95 L0.04,-13.07 L1.58,-13.07 L1.58,0.00Z" fill="#000" stroke="#000" stroke-width="0.3"/><text x="5.55" y="0" font-family="Liberation Sans, sans-serif" stroke="#000" stroke-width="0.3" font-size="19">5</text></g>
<text transform="translate(434.10,114.9) rotate(-90) scale(1,1.045)" text-anchor="middle" font-family="Liberation Sans, sans-serif" stroke="#000" stroke-width="0.3" font-size="19">Difference in CFB</text>
<text transform="translate(646.40,276.7) scale(1,1.045)" text-anchor="middle" font-family="Liberation Sans, sans-serif" stroke="#000" stroke-width="0.3" font-size="18.8">Weeks</text>
<text transform="translate(219.9,13.45) scale(1,1.045)" text-anchor="middle" font-family="Liberation Sans, sans-serif" stroke="#000" stroke-width="0.3" font-weight="bold" font-size="18.2">B-spline model</text>
<text transform="translate(650.5,13.45) scale(1,1.045)" text-anchor="middle" font-family="Liberation Sans, sans-serif" stroke="#000" stroke-width="0.3" font-weight="bold" font-size="18.2">FP model</text>
</svg>
</body></html>
